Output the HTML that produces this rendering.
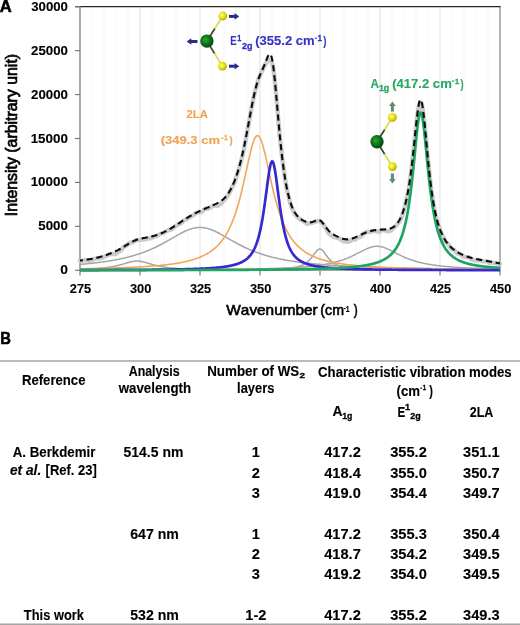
<!DOCTYPE html><html><head><meta charset="utf-8"><style>html,body{margin:0;padding:0;background:#fff;overflow:hidden}svg{display:block;will-change:transform}text{font-family:"Liberation Sans",sans-serif;font-kerning:none;font-variant-ligatures:none}</style></head><body>
<svg width="520" height="625" viewBox="0 0 520 625">
<rect width="520" height="625" fill="#fff"/>
<line x1="92" y1="7.3" x2="92" y2="270" stroke="#f5f5f5" stroke-width="1"/>
<line x1="104" y1="7.3" x2="104" y2="270" stroke="#f5f5f5" stroke-width="1"/>
<line x1="116" y1="7.3" x2="116" y2="270" stroke="#f5f5f5" stroke-width="1"/>
<line x1="128" y1="7.3" x2="128" y2="270" stroke="#f5f5f5" stroke-width="1"/>
<line x1="140" y1="7.3" x2="140" y2="270" stroke="#e4e4e4" stroke-width="1.2"/>
<line x1="152" y1="7.3" x2="152" y2="270" stroke="#f5f5f5" stroke-width="1"/>
<line x1="164" y1="7.3" x2="164" y2="270" stroke="#f5f5f5" stroke-width="1"/>
<line x1="176" y1="7.3" x2="176" y2="270" stroke="#f5f5f5" stroke-width="1"/>
<line x1="188" y1="7.3" x2="188" y2="270" stroke="#f5f5f5" stroke-width="1"/>
<line x1="200" y1="7.3" x2="200" y2="270" stroke="#e4e4e4" stroke-width="1.2"/>
<line x1="212" y1="7.3" x2="212" y2="270" stroke="#f5f5f5" stroke-width="1"/>
<line x1="224" y1="7.3" x2="224" y2="270" stroke="#f5f5f5" stroke-width="1"/>
<line x1="236" y1="7.3" x2="236" y2="270" stroke="#f5f5f5" stroke-width="1"/>
<line x1="248" y1="7.3" x2="248" y2="270" stroke="#f5f5f5" stroke-width="1"/>
<line x1="260" y1="7.3" x2="260" y2="270" stroke="#e4e4e4" stroke-width="1.2"/>
<line x1="272" y1="7.3" x2="272" y2="270" stroke="#f5f5f5" stroke-width="1"/>
<line x1="284" y1="7.3" x2="284" y2="270" stroke="#f5f5f5" stroke-width="1"/>
<line x1="296" y1="7.3" x2="296" y2="270" stroke="#f5f5f5" stroke-width="1"/>
<line x1="308" y1="7.3" x2="308" y2="270" stroke="#f5f5f5" stroke-width="1"/>
<line x1="320" y1="7.3" x2="320" y2="270" stroke="#e4e4e4" stroke-width="1.2"/>
<line x1="332" y1="7.3" x2="332" y2="270" stroke="#f5f5f5" stroke-width="1"/>
<line x1="344" y1="7.3" x2="344" y2="270" stroke="#f5f5f5" stroke-width="1"/>
<line x1="356" y1="7.3" x2="356" y2="270" stroke="#f5f5f5" stroke-width="1"/>
<line x1="368" y1="7.3" x2="368" y2="270" stroke="#f5f5f5" stroke-width="1"/>
<line x1="380" y1="7.3" x2="380" y2="270" stroke="#e4e4e4" stroke-width="1.2"/>
<line x1="392" y1="7.3" x2="392" y2="270" stroke="#f5f5f5" stroke-width="1"/>
<line x1="404" y1="7.3" x2="404" y2="270" stroke="#f5f5f5" stroke-width="1"/>
<line x1="416" y1="7.3" x2="416" y2="270" stroke="#f5f5f5" stroke-width="1"/>
<line x1="428" y1="7.3" x2="428" y2="270" stroke="#f5f5f5" stroke-width="1"/>
<line x1="440" y1="7.3" x2="440" y2="270" stroke="#e4e4e4" stroke-width="1.2"/>
<line x1="452" y1="7.3" x2="452" y2="270" stroke="#f5f5f5" stroke-width="1"/>
<line x1="464" y1="7.3" x2="464" y2="270" stroke="#f5f5f5" stroke-width="1"/>
<line x1="476" y1="7.3" x2="476" y2="270" stroke="#f5f5f5" stroke-width="1"/>
<line x1="488" y1="7.3" x2="488" y2="270" stroke="#f5f5f5" stroke-width="1"/>
<line x1="500" y1="6.7" x2="500" y2="270.3" stroke="#8c8c8c" stroke-width="1.3"/>
<line x1="75" y1="6.7" x2="500.6" y2="6.7" stroke="#262626" stroke-width="1.3"/>
<line x1="80" y1="6.2" x2="80" y2="270.3" stroke="#7a7a7a" stroke-width="1.3"/>
<line x1="80" y1="270.3" x2="500" y2="270.3" stroke="#7a7a7a" stroke-width="1.3"/>
<line x1="75" y1="226.37" x2="80" y2="226.37" stroke="#7a7a7a" stroke-width="1.2"/>
<line x1="75" y1="182.43" x2="80" y2="182.43" stroke="#7a7a7a" stroke-width="1.2"/>
<line x1="75" y1="138.50" x2="80" y2="138.50" stroke="#7a7a7a" stroke-width="1.2"/>
<line x1="75" y1="94.56" x2="80" y2="94.56" stroke="#7a7a7a" stroke-width="1.2"/>
<line x1="75" y1="50.63" x2="80" y2="50.63" stroke="#7a7a7a" stroke-width="1.2"/>
<line x1="75" y1="6.69" x2="80" y2="6.69" stroke="#7a7a7a" stroke-width="1.2"/>
<line x1="75" y1="270.3" x2="80" y2="270.3" stroke="#7a7a7a" stroke-width="1.2"/>
<line x1="80" y1="270.3" x2="80" y2="275.5" stroke="#7a7a7a" stroke-width="1.2"/>
<line x1="140" y1="270.3" x2="140" y2="275.5" stroke="#7a7a7a" stroke-width="1.2"/>
<line x1="200" y1="270.3" x2="200" y2="275.5" stroke="#7a7a7a" stroke-width="1.2"/>
<line x1="260" y1="270.3" x2="260" y2="275.5" stroke="#7a7a7a" stroke-width="1.2"/>
<line x1="320" y1="270.3" x2="320" y2="275.5" stroke="#7a7a7a" stroke-width="1.2"/>
<line x1="380" y1="270.3" x2="380" y2="275.5" stroke="#7a7a7a" stroke-width="1.2"/>
<line x1="440" y1="270.3" x2="440" y2="275.5" stroke="#7a7a7a" stroke-width="1.2"/>
<line x1="500" y1="270.3" x2="500" y2="275.5" stroke="#7a7a7a" stroke-width="1.2"/>
<path d="M80.00,261.10 L80.50,261.06 L81.00,261.03 L81.50,260.99 L82.00,260.96 L82.50,260.83 L83.00,260.70 L83.50,260.57 L84.00,260.45 L84.50,260.32 L85.00,260.19 L85.50,260.23 L86.00,260.26 L86.50,260.29 L87.00,260.32 L87.50,260.36 L88.00,260.39 L88.50,260.44 L89.00,260.49 L89.50,260.54 L90.00,260.59 L90.50,260.64 L91.00,260.68 L91.50,260.41 L92.00,260.14 L92.50,259.87 L93.00,259.59 L93.50,259.31 L94.00,259.03 L94.50,258.91 L95.00,258.80 L95.50,258.68 L96.00,258.55 L96.50,258.42 L97.00,258.29 L97.50,258.28 L98.00,258.27 L98.50,258.25 L99.00,258.23 L99.50,258.21 L100.00,258.18 L100.50,258.03 L101.00,257.87 L101.50,257.71 L102.00,257.55 L102.50,257.38 L103.00,257.22 L103.50,257.03 L104.00,256.85 L104.50,256.66 L105.00,256.47 L105.50,256.27 L106.00,256.08 L106.50,255.80 L107.00,255.52 L107.50,255.24 L108.00,254.96 L108.50,254.68 L109.00,254.40 L109.50,254.31 L110.00,254.23 L110.50,254.16 L111.00,254.10 L111.50,254.05 L112.00,254.03 L112.50,254.00 L113.00,254.00 L113.50,254.02 L114.00,254.06 L114.50,254.12 L115.00,254.18 L115.50,253.97 L116.00,253.73 L116.50,253.47 L117.00,253.15 L117.50,252.79 L118.00,252.36 L118.50,252.15 L119.00,251.89 L119.50,251.57 L120.00,251.20 L120.50,250.80 L121.00,250.39 L121.50,249.73 L122.00,249.09 L122.50,248.46 L123.00,247.85 L123.50,247.26 L124.00,246.70 L124.50,246.37 L125.00,246.06 L125.50,245.76 L126.00,245.48 L126.50,245.21 L127.00,244.95 L127.50,244.57 L128.00,244.21 L128.50,243.85 L129.00,243.49 L129.50,243.14 L130.00,242.79 L130.50,242.66 L131.00,242.54 L131.50,242.43 L132.00,242.32 L132.50,242.22 L133.00,242.13 L133.50,241.78 L134.00,241.45 L134.50,241.12 L135.00,240.80 L135.50,240.49 L136.00,240.19 L136.50,240.16 L137.00,240.14 L137.50,240.12 L138.00,240.12 L138.50,240.13 L139.00,240.15 L139.50,240.02 L140.00,239.89 L140.50,239.79 L141.00,239.70 L141.50,239.62 L142.00,239.57 L142.50,239.51 L143.00,239.48 L143.50,239.46 L144.00,239.47 L144.50,239.49 L145.00,239.52 L145.50,239.35 L146.00,239.17 L146.50,238.97 L147.00,238.74 L147.50,238.47 L148.00,238.16 L148.50,238.24 L149.00,238.28 L149.50,238.28 L150.00,238.24 L150.50,238.19 L151.00,238.12 L151.50,237.90 L152.00,237.68 L152.50,237.48 L153.00,237.28 L153.50,237.10 L154.00,236.93 L154.50,236.74 L155.00,236.57 L155.50,236.40 L156.00,236.23 L156.50,236.07 L157.00,235.91 L157.50,235.57 L158.00,235.23 L158.50,234.88 L159.00,234.53 L159.50,234.18 L160.00,233.82 L160.50,233.73 L161.00,233.63 L161.50,233.53 L162.00,233.43 L162.50,233.31 L163.00,233.20 L163.50,232.92 L164.00,232.64 L164.50,232.35 L165.00,232.06 L165.50,231.77 L166.00,231.47 L166.50,231.23 L167.00,230.98 L167.50,230.73 L168.00,230.48 L168.50,230.22 L169.00,229.95 L169.50,229.85 L170.00,229.75 L170.50,229.64 L171.00,229.53 L171.50,229.42 L172.00,229.30 L172.50,228.80 L173.00,228.30 L173.50,227.79 L174.00,227.29 L174.50,226.78 L175.00,226.26 L175.50,226.01 L176.00,225.76 L176.50,225.51 L177.00,225.25 L177.50,225.00 L178.00,224.74 L178.50,224.50 L179.00,224.25 L179.50,224.01 L180.00,223.76 L180.50,223.52 L181.00,223.28 L181.50,222.80 L182.00,222.32 L182.50,221.84 L183.00,221.36 L183.50,220.89 L184.00,220.42 L184.50,220.14 L185.00,219.86 L185.50,219.59 L186.00,219.32 L186.50,219.06 L187.00,218.79 L187.50,218.51 L188.00,218.22 L188.50,217.95 L189.00,217.67 L189.50,217.40 L190.00,217.13 L190.50,216.83 L191.00,216.54 L191.50,216.26 L192.00,215.97 L192.50,215.69 L193.00,215.42 L193.50,215.02 L194.00,214.62 L194.50,214.23 L195.00,213.84 L195.50,213.46 L196.00,213.07 L196.50,212.95 L197.00,212.84 L197.50,212.72 L198.00,212.61 L198.50,212.50 L199.00,212.39 L199.50,212.28 L200.00,212.17 L200.50,212.07 L201.00,211.97 L201.50,211.86 L202.00,211.77 L202.50,211.25 L203.00,210.73 L203.50,210.22 L204.00,209.71 L204.50,209.20 L205.00,208.69 L205.50,208.71 L206.00,208.73 L206.50,208.76 L207.00,208.78 L207.50,208.81 L208.00,208.84 L208.50,208.55 L209.00,208.26 L209.50,207.97 L210.00,207.69 L210.50,207.40 L211.00,207.12 L211.50,206.83 L212.00,206.54 L212.50,206.25 L213.00,205.97 L213.50,205.69 L214.00,205.41 L214.50,205.47 L215.00,205.55 L215.50,205.63 L216.00,205.73 L216.50,205.84 L217.00,205.97 L217.50,205.72 L218.00,205.48 L218.50,205.25 L219.00,205.02 L219.50,204.77 L220.00,204.50 L220.50,204.12 L221.00,203.68 L221.50,203.19 L222.00,202.64 L222.50,202.01 L223.00,201.31 L223.50,200.88 L224.00,200.38 L224.50,199.84 L225.00,199.26 L225.50,198.66 L226.00,198.03 L226.50,197.31 L227.00,196.59 L227.50,195.85 L228.00,195.10 L228.50,194.34 L229.00,193.56 L229.50,192.63 L230.00,191.68 L230.50,190.69 L231.00,189.68 L231.50,188.63 L232.00,187.54 L232.50,186.58 L233.00,185.57 L233.50,184.52 L234.00,183.42 L234.50,182.28 L235.00,181.09 L235.50,179.69 L236.00,178.23 L236.50,176.73 L237.00,175.17 L237.50,173.55 L238.00,171.88 L238.50,170.30 L239.00,168.66 L239.50,166.96 L240.00,165.20 L240.50,163.38 L241.00,161.49 L241.50,159.55 L242.00,157.54 L242.50,155.47 L243.00,153.33 L243.50,151.14 L244.00,148.88 L244.50,146.28 L245.00,143.62 L245.50,140.91 L246.00,138.15 L246.50,135.35 L247.00,132.51 L247.50,129.93 L248.00,127.33 L248.50,124.71 L249.00,122.08 L249.50,119.44 L250.00,116.81 L250.50,114.04 L251.00,111.30 L251.50,108.59 L252.00,105.93 L252.50,103.33 L253.00,100.79 L253.50,98.45 L254.00,96.19 L254.50,94.02 L255.00,91.94 L255.50,89.96 L256.00,88.08 L256.50,86.12 L257.00,84.26 L257.50,82.50 L258.00,80.84 L258.50,79.26 L259.00,77.77 L259.50,76.55 L260.00,75.39 L260.50,74.28 L261.00,73.21 L261.50,72.16 L262.00,71.14 L262.50,70.10 L263.00,69.06 L263.50,68.02 L264.00,66.99 L264.50,65.96 L265.00,64.96 L265.50,64.08 L266.00,63.25 L266.50,62.50 L267.00,61.85 L267.50,61.30 L268.00,60.86 L268.50,60.46 L269.00,60.19 L269.50,60.07 L270.00,60.16 L270.50,60.49 L271.00,61.15 L271.50,61.93 L272.00,63.18 L272.50,64.96 L273.00,67.31 L273.50,70.25 L274.00,73.76 L274.50,78.08 L275.00,82.85 L275.50,87.99 L276.00,93.41 L276.50,99.03 L277.00,104.76 L277.50,110.61 L278.00,116.44 L278.50,122.20 L279.00,127.84 L279.50,133.33 L280.00,138.65 L280.50,143.37 L281.00,147.89 L281.50,152.21 L282.00,156.32 L282.50,160.22 L283.00,163.91 L283.50,167.82 L284.00,171.53 L284.50,175.04 L285.00,178.37 L285.50,181.51 L286.00,184.49 L286.50,187.18 L287.00,189.71 L287.50,192.09 L288.00,194.33 L288.50,196.42 L289.00,198.39 L289.50,200.33 L290.00,202.16 L290.50,203.87 L291.00,205.48 L291.50,206.99 L292.00,208.40 L292.50,209.54 L293.00,210.59 L293.50,211.56 L294.00,212.47 L294.50,213.30 L295.00,214.07 L295.50,214.74 L296.00,215.36 L296.50,215.92 L297.00,216.43 L297.50,216.91 L298.00,217.34 L298.50,217.83 L299.00,218.29 L299.50,218.72 L300.00,219.12 L300.50,219.49 L301.00,219.84 L301.50,220.19 L302.00,220.51 L302.50,220.82 L303.00,221.11 L303.50,221.38 L304.00,221.63 L304.50,222.03 L305.00,222.42 L305.50,222.79 L306.00,223.14 L306.50,223.48 L307.00,223.80 L307.50,223.72 L308.00,223.63 L308.50,223.51 L309.00,223.37 L309.50,223.21 L310.00,223.01 L310.50,223.00 L311.00,222.96 L311.50,222.89 L312.00,222.79 L312.50,222.67 L313.00,222.51 L313.50,222.39 L314.00,222.25 L314.50,222.10 L315.00,221.94 L315.50,221.78 L316.00,221.64 L316.50,221.40 L317.00,221.19 L317.50,221.02 L318.00,220.91 L318.50,220.87 L319.00,220.89 L319.50,221.03 L320.00,221.26 L320.50,221.56 L321.00,221.95 L321.50,222.41 L322.00,222.95 L322.50,223.46 L323.00,224.03 L323.50,224.65 L324.00,225.30 L324.50,225.99 L325.00,226.71 L325.50,227.64 L326.00,228.57 L326.50,229.51 L327.00,230.43 L327.50,231.32 L328.00,232.18 L328.50,232.83 L329.00,233.42 L329.50,233.93 L330.00,234.38 L330.50,234.75 L331.00,235.04 L331.50,235.48 L332.00,235.86 L332.50,236.21 L333.00,236.52 L333.50,236.82 L334.00,237.12 L334.50,237.21 L335.00,237.31 L335.50,237.42 L336.00,237.55 L336.50,237.69 L337.00,237.84 L337.50,237.99 L338.00,238.15 L338.50,238.32 L339.00,238.49 L339.50,238.67 L340.00,238.87 L340.50,239.21 L341.00,239.56 L341.50,239.91 L342.00,240.27 L342.50,240.64 L343.00,241.00 L343.50,241.17 L344.00,241.32 L344.50,241.44 L345.00,241.51 L345.50,241.53 L346.00,241.50 L346.50,241.65 L347.00,241.74 L347.50,241.78 L348.00,241.78 L348.50,241.74 L349.00,241.68 L349.50,241.36 L350.00,241.04 L350.50,240.72 L351.00,240.41 L351.50,240.12 L352.00,239.84 L352.50,239.75 L353.00,239.67 L353.50,239.61 L354.00,239.56 L354.50,239.52 L355.00,239.49 L355.50,239.20 L356.00,238.90 L356.50,238.59 L357.00,238.25 L357.50,237.87 L358.00,237.46 L358.50,237.37 L359.00,237.25 L359.50,237.10 L360.00,236.92 L360.50,236.73 L361.00,236.54 L361.50,235.98 L362.00,235.43 L362.50,234.89 L363.00,234.37 L363.50,233.87 L364.00,233.39 L364.50,233.09 L365.00,232.82 L365.50,232.56 L366.00,232.31 L366.50,232.07 L367.00,231.85 L367.50,231.84 L368.00,231.84 L368.50,231.85 L369.00,231.87 L369.50,231.89 L370.00,231.93 L370.50,231.73 L371.00,231.55 L371.50,231.37 L372.00,231.19 L372.50,231.03 L373.00,230.87 L373.50,230.88 L374.00,230.90 L374.50,230.93 L375.00,230.96 L375.50,230.99 L376.00,231.04 L376.50,231.19 L377.00,231.34 L377.50,231.50 L378.00,231.66 L378.50,231.83 L379.00,232.00 L379.50,231.67 L380.00,231.33 L380.50,231.01 L381.00,230.68 L381.50,230.37 L382.00,230.07 L382.50,230.10 L383.00,230.14 L383.50,230.20 L384.00,230.27 L384.50,230.35 L385.00,230.44 L385.50,230.60 L386.00,230.76 L386.50,230.91 L387.00,231.04 L387.50,231.15 L388.00,231.23 L388.50,231.21 L389.00,231.14 L389.50,231.02 L390.00,230.86 L390.50,230.64 L391.00,230.39 L391.50,230.00 L392.00,229.57 L392.50,229.12 L393.00,228.65 L393.50,228.16 L394.00,227.65 L394.50,227.19 L395.00,226.70 L395.50,226.19 L396.00,225.65 L396.50,225.07 L397.00,224.46 L397.50,223.90 L398.00,223.29 L398.50,222.64 L399.00,221.92 L399.50,221.15 L400.00,220.32 L400.50,219.31 L401.00,218.24 L401.50,217.08 L402.00,215.85 L402.50,214.53 L403.00,213.12 L403.50,211.48 L404.00,209.74 L404.50,207.89 L405.00,205.93 L405.50,203.84 L406.00,201.62 L406.50,199.52 L407.00,197.28 L407.50,194.88 L408.00,192.32 L408.50,189.59 L409.00,186.68 L409.50,183.51 L410.00,180.15 L410.50,176.59 L411.00,172.84 L411.50,168.89 L412.00,164.74 L412.50,160.30 L413.00,155.68 L413.50,150.91 L414.00,146.02 L414.50,141.04 L415.00,136.04 L415.50,131.31 L416.00,126.69 L416.50,122.28 L417.00,118.16 L417.50,114.44 L418.00,111.20 L418.50,108.24 L419.00,105.85 L419.50,104.05 L420.00,102.85 L420.50,102.27 L421.00,102.37 L421.50,103.45 L422.00,105.27 L422.50,107.82 L423.00,111.07 L423.50,114.95 L424.00,119.35 L424.50,123.93 L425.00,128.82 L425.50,133.92 L426.00,139.15 L426.50,144.42 L427.00,149.67 L427.50,154.92 L428.00,160.05 L428.50,165.03 L429.00,169.84 L429.50,174.45 L430.00,178.87 L430.50,183.02 L431.00,186.96 L431.50,190.69 L432.00,194.21 L432.50,197.54 L433.00,200.68 L433.50,203.74 L434.00,206.63 L434.50,209.36 L435.00,211.92 L435.50,214.34 L436.00,216.61 L436.50,218.52 L437.00,220.31 L437.50,221.97 L438.00,223.53 L438.50,224.99 L439.00,226.36 L439.50,227.91 L440.00,229.38 L440.50,230.77 L441.00,232.09 L441.50,233.34 L442.00,234.53 L442.50,235.72 L443.00,236.86 L443.50,237.96 L444.00,239.00 L444.50,240.00 L445.00,240.96 L445.50,241.48 L446.00,241.97 L446.50,242.43 L447.00,242.85 L447.50,243.25 L448.00,243.62 L448.50,244.51 L449.00,245.37 L449.50,246.22 L450.00,247.04 L450.50,247.84 L451.00,248.63 L451.50,248.84 L452.00,249.03 L452.50,249.21 L453.00,249.37 L453.50,249.51 L454.00,249.65 L454.50,250.28 L455.00,250.89 L455.50,251.50 L456.00,252.09 L456.50,252.67 L457.00,253.24 L457.50,253.39 L458.00,253.53 L458.50,253.66 L459.00,253.78 L459.50,253.89 L460.00,253.99 L460.50,254.41 L461.00,254.82 L461.50,255.22 L462.00,255.62 L462.50,256.00 L463.00,256.38 L463.50,256.53 L464.00,256.67 L464.50,256.81 L465.00,256.93 L465.50,257.06 L466.00,257.17 L466.50,257.19 L467.00,257.19 L467.50,257.19 L468.00,257.19 L468.50,257.18 L469.00,257.17 L469.50,257.59 L470.00,258.02 L470.50,258.44 L471.00,258.86 L471.50,259.27 L472.00,259.68 L472.50,259.83 L473.00,259.97 L473.50,260.11 L474.00,260.25 L474.50,260.39 L475.00,260.52 L475.50,260.49 L476.00,260.45 L476.50,260.40 L477.00,260.36 L477.50,260.31 L478.00,260.26 L478.50,260.34 L479.00,260.42 L479.50,260.50 L480.00,260.58 L480.50,260.65 L481.00,260.73 L481.50,260.83 L482.00,260.93 L482.50,261.04 L483.00,261.14 L483.50,261.24 L484.00,261.34 L484.50,261.35 L485.00,261.35 L485.50,261.36 L486.00,261.36 L486.50,261.37 L487.00,261.37 L487.50,261.66 L488.00,261.95 L488.50,262.25 L489.00,262.54 L489.50,262.83 L490.00,263.12 L490.50,263.04 L491.00,262.97 L491.50,262.89 L492.00,262.82 L492.50,262.74 L493.00,262.67 L493.50,262.81 L494.00,262.95 L494.50,263.10 L495.00,263.24 L495.50,263.39 L496.00,263.54 L496.50,263.56 L497.00,263.59 L497.50,263.62 L498.00,263.65 L498.50,263.68 L499.00,263.71 L499.50,263.83 L500.00,263.95" fill="none" stroke="#cbcbcb" stroke-width="4.4" stroke-linejoin="round" stroke-linecap="round"/>
<path d="M80.00,264.39 L80.50,264.35 L81.00,264.31 L81.50,264.26 L82.00,264.22 L82.50,264.17 L83.00,264.13 L83.50,264.08 L84.00,264.04 L84.50,263.99 L85.00,263.94 L85.50,263.90 L86.00,263.85 L86.50,263.80 L87.00,263.75 L87.50,263.70 L88.00,263.65 L88.50,263.60 L89.00,263.55 L89.50,263.50 L90.00,263.45 L90.50,263.40 L91.00,263.34 L91.50,263.29 L92.00,263.23 L92.50,263.18 L93.00,263.12 L93.50,263.07 L94.00,263.01 L94.50,262.95 L95.00,262.90 L95.50,262.84 L96.00,262.78 L96.50,262.72 L97.00,262.66 L97.50,262.60 L98.00,262.53 L98.50,262.47 L99.00,262.41 L99.50,262.34 L100.00,262.28 L100.50,262.21 L101.00,262.15 L101.50,262.08 L102.00,262.01 L102.50,261.94 L103.00,261.87 L103.50,261.80 L104.00,261.73 L104.50,261.66 L105.00,261.59 L105.50,261.51 L106.00,261.44 L106.50,261.37 L107.00,261.29 L107.50,261.21 L108.00,261.13 L108.50,261.06 L109.00,260.98 L109.50,260.90 L110.00,260.81 L110.50,260.73 L111.00,260.65 L111.50,260.56 L112.00,260.48 L112.50,260.39 L113.00,260.30 L113.50,260.21 L114.00,260.13 L114.50,260.03 L115.00,259.94 L115.50,259.85 L116.00,259.76 L116.50,259.66 L117.00,259.56 L117.50,259.47 L118.00,259.37 L118.50,259.27 L119.00,259.17 L119.50,259.06 L120.00,258.96 L120.50,258.86 L121.00,258.75 L121.50,258.64 L122.00,258.53 L122.50,258.42 L123.00,258.31 L123.50,258.20 L124.00,258.09 L124.50,257.97 L125.00,257.85 L125.50,257.73 L126.00,257.61 L126.50,257.49 L127.00,257.37 L127.50,257.25 L128.00,257.12 L128.50,256.99 L129.00,256.86 L129.50,256.73 L130.00,256.60 L130.50,256.47 L131.00,256.33 L131.50,256.19 L132.00,256.05 L132.50,255.91 L133.00,255.77 L133.50,255.63 L134.00,255.48 L134.50,255.33 L135.00,255.18 L135.50,255.03 L136.00,254.88 L136.50,254.72 L137.00,254.57 L137.50,254.41 L138.00,254.25 L138.50,254.08 L139.00,253.92 L139.50,253.75 L140.00,253.58 L140.50,253.41 L141.00,253.24 L141.50,253.06 L142.00,252.89 L142.50,252.71 L143.00,252.53 L143.50,252.34 L144.00,252.16 L144.50,251.97 L145.00,251.78 L145.50,251.59 L146.00,251.39 L146.50,251.20 L147.00,251.00 L147.50,250.80 L148.00,250.59 L148.50,250.39 L149.00,250.18 L149.50,249.97 L150.00,249.76 L150.50,249.54 L151.00,249.32 L151.50,249.10 L152.00,248.88 L152.50,248.66 L153.00,248.43 L153.50,248.20 L154.00,247.97 L154.50,247.74 L155.00,247.50 L155.50,247.26 L156.00,247.02 L156.50,246.78 L157.00,246.54 L157.50,246.29 L158.00,246.04 L158.50,245.79 L159.00,245.53 L159.50,245.28 L160.00,245.02 L160.50,244.76 L161.00,244.50 L161.50,244.23 L162.00,243.97 L162.50,243.70 L163.00,243.43 L163.50,243.16 L164.00,242.88 L164.50,242.61 L165.00,242.33 L165.50,242.05 L166.00,241.78 L166.50,241.49 L167.00,241.21 L167.50,240.93 L168.00,240.64 L168.50,240.36 L169.00,240.07 L169.50,239.78 L170.00,239.50 L170.50,239.21 L171.00,238.92 L171.50,238.63 L172.00,238.34 L172.50,238.05 L173.00,237.76 L173.50,237.47 L174.00,237.18 L174.50,236.89 L175.00,236.60 L175.50,236.32 L176.00,236.03 L176.50,235.75 L177.00,235.46 L177.50,235.18 L178.00,234.90 L178.50,234.62 L179.00,234.35 L179.50,234.07 L180.00,233.80 L180.50,233.53 L181.00,233.27 L181.50,233.00 L182.00,232.74 L182.50,232.49 L183.00,232.24 L183.50,231.99 L184.00,231.75 L184.50,231.51 L185.00,231.27 L185.50,231.05 L186.00,230.82 L186.50,230.60 L187.00,230.39 L187.50,230.18 L188.00,229.98 L188.50,229.79 L189.00,229.60 L189.50,229.42 L190.00,229.25 L190.50,229.08 L191.00,228.92 L191.50,228.77 L192.00,228.62 L192.50,228.48 L193.00,228.36 L193.50,228.23 L194.00,228.12 L194.50,228.02 L195.00,227.92 L195.50,227.84 L196.00,227.76 L196.50,227.69 L197.00,227.63 L197.50,227.58 L198.00,227.54 L198.50,227.51 L199.00,227.48 L199.50,227.47 L200.00,227.46 L200.50,227.47 L201.00,227.48 L201.50,227.51 L202.00,227.54 L202.50,227.58 L203.00,227.63 L203.50,227.69 L204.00,227.76 L204.50,227.84 L205.00,227.92 L205.50,228.02 L206.00,228.12 L206.50,228.23 L207.00,228.36 L207.50,228.48 L208.00,228.62 L208.50,228.77 L209.00,228.92 L209.50,229.08 L210.00,229.25 L210.50,229.42 L211.00,229.60 L211.50,229.79 L212.00,229.98 L212.50,230.18 L213.00,230.39 L213.50,230.60 L214.00,230.82 L214.50,231.05 L215.00,231.27 L215.50,231.51 L216.00,231.75 L216.50,231.99 L217.00,232.24 L217.50,232.49 L218.00,232.74 L218.50,233.00 L219.00,233.27 L219.50,233.53 L220.00,233.80 L220.50,234.07 L221.00,234.35 L221.50,234.62 L222.00,234.90 L222.50,235.18 L223.00,235.46 L223.50,235.75 L224.00,236.03 L224.50,236.32 L225.00,236.60 L225.50,236.89 L226.00,237.18 L226.50,237.47 L227.00,237.76 L227.50,238.05 L228.00,238.34 L228.50,238.63 L229.00,238.92 L229.50,239.21 L230.00,239.50 L230.50,239.78 L231.00,240.07 L231.50,240.36 L232.00,240.64 L232.50,240.93 L233.00,241.21 L233.50,241.49 L234.00,241.78 L234.50,242.05 L235.00,242.33 L235.50,242.61 L236.00,242.88 L236.50,243.16 L237.00,243.43 L237.50,243.70 L238.00,243.97 L238.50,244.23 L239.00,244.50 L239.50,244.76 L240.00,245.02 L240.50,245.28 L241.00,245.53 L241.50,245.79 L242.00,246.04 L242.50,246.29 L243.00,246.54 L243.50,246.78 L244.00,247.02 L244.50,247.26 L245.00,247.50 L245.50,247.74 L246.00,247.97 L246.50,248.20 L247.00,248.43 L247.50,248.66 L248.00,248.88 L248.50,249.10 L249.00,249.32 L249.50,249.54 L250.00,249.76 L250.50,249.97 L251.00,250.18 L251.50,250.39 L252.00,250.59 L252.50,250.80 L253.00,251.00 L253.50,251.20 L254.00,251.39 L254.50,251.59 L255.00,251.78 L255.50,251.97 L256.00,252.16 L256.50,252.34 L257.00,252.53 L257.50,252.71 L258.00,252.89 L258.50,253.06 L259.00,253.24 L259.50,253.41 L260.00,253.58 L260.50,253.75 L261.00,253.92 L261.50,254.08 L262.00,254.25 L262.50,254.41 L263.00,254.57 L263.50,254.72 L264.00,254.88 L264.50,255.03 L265.00,255.18 L265.50,255.33 L266.00,255.48 L266.50,255.63 L267.00,255.77 L267.50,255.91 L268.00,256.05 L268.50,256.19 L269.00,256.33 L269.50,256.47 L270.00,256.60 L270.50,256.73 L271.00,256.86 L271.50,256.99 L272.00,257.12 L272.50,257.25 L273.00,257.37 L273.50,257.49 L274.00,257.61 L274.50,257.73 L275.00,257.85 L275.50,257.97 L276.00,258.09 L276.50,258.20 L277.00,258.31 L277.50,258.42 L278.00,258.53 L278.50,258.64 L279.00,258.75 L279.50,258.86 L280.00,258.96 L280.50,259.06 L281.00,259.17 L281.50,259.27 L282.00,259.37 L282.50,259.47 L283.00,259.56 L283.50,259.66 L284.00,259.76 L284.50,259.85 L285.00,259.94 L285.50,260.03 L286.00,260.13 L286.50,260.21 L287.00,260.30 L287.50,260.39 L288.00,260.48 L288.50,260.56 L289.00,260.65 L289.50,260.73 L290.00,260.81 L290.50,260.90 L291.00,260.98 L291.50,261.06 L292.00,261.13 L292.50,261.21 L293.00,261.29 L293.50,261.37 L294.00,261.44 L294.50,261.51 L295.00,261.59 L295.50,261.66 L296.00,261.73 L296.50,261.80 L297.00,261.87 L297.50,261.94 L298.00,262.01 L298.50,262.08 L299.00,262.15 L299.50,262.21 L300.00,262.28 L300.50,262.34 L301.00,262.41 L301.50,262.47 L302.00,262.53 L302.50,262.60 L303.00,262.66 L303.50,262.72 L304.00,262.78 L304.50,262.84 L305.00,262.90 L305.50,262.95 L306.00,263.01 L306.50,263.07 L307.00,263.12 L307.50,263.18 L308.00,263.23 L308.50,263.29 L309.00,263.34 L309.50,263.40 L310.00,263.45 L310.50,263.50 L311.00,263.55 L311.50,263.60 L312.00,263.65 L312.50,263.70 L313.00,263.75 L313.50,263.80 L314.00,263.85 L314.50,263.90 L315.00,263.94 L315.50,263.99 L316.00,264.04 L316.50,264.08 L317.00,264.13 L317.50,264.17 L318.00,264.22 L318.50,264.26 L319.00,264.31 L319.50,264.35 L320.00,264.39 L320.50,264.43 L321.00,264.48 L321.50,264.52 L322.00,264.56 L322.50,264.60 L323.00,264.64 L323.50,264.68 L324.00,264.72 L324.50,264.76 L325.00,264.80 L325.50,264.83 L326.00,264.87 L326.50,264.91 L327.00,264.95 L327.50,264.98 L328.00,265.02 L328.50,265.05 L329.00,265.09 L329.50,265.13 L330.00,265.16 L330.50,265.20 L331.00,265.23 L331.50,265.26 L332.00,265.30 L332.50,265.33 L333.00,265.36 L333.50,265.40 L334.00,265.43 L334.50,265.46 L335.00,265.49 L335.50,265.52 L336.00,265.56 L336.50,265.59 L337.00,265.62 L337.50,265.65 L338.00,265.68 L338.50,265.71 L339.00,265.74 L339.50,265.77 L340.00,265.79 L340.50,265.82 L341.00,265.85 L341.50,265.88 L342.00,265.91 L342.50,265.93 L343.00,265.96 L343.50,265.99 L344.00,266.02 L344.50,266.04 L345.00,266.07 L345.50,266.10 L346.00,266.12 L346.50,266.15 L347.00,266.17 L347.50,266.20 L348.00,266.22 L348.50,266.25 L349.00,266.27 L349.50,266.30 L350.00,266.32 L350.50,266.34 L351.00,266.37 L351.50,266.39 L352.00,266.42 L352.50,266.44 L353.00,266.46 L353.50,266.48 L354.00,266.51 L354.50,266.53 L355.00,266.55 L355.50,266.57 L356.00,266.60 L356.50,266.62 L357.00,266.64 L357.50,266.66 L358.00,266.68 L358.50,266.70 L359.00,266.72 L359.50,266.74 L360.00,266.76 L360.50,266.78 L361.00,266.80 L361.50,266.82 L362.00,266.84 L362.50,266.86 L363.00,266.88 L363.50,266.90 L364.00,266.92 L364.50,266.94 L365.00,266.96 L365.50,266.98 L366.00,266.99 L366.50,267.01 L367.00,267.03 L367.50,267.05 L368.00,267.07 L368.50,267.08 L369.00,267.10 L369.50,267.12 L370.00,267.14 L370.50,267.15 L371.00,267.17 L371.50,267.19 L372.00,267.20 L372.50,267.22 L373.00,267.24 L373.50,267.25 L374.00,267.27 L374.50,267.29 L375.00,267.30 L375.50,267.32 L376.00,267.33 L376.50,267.35 L377.00,267.37 L377.50,267.38 L378.00,267.40 L378.50,267.41 L379.00,267.43 L379.50,267.44 L380.00,267.46 L380.50,267.47 L381.00,267.49 L381.50,267.50 L382.00,267.51 L382.50,267.53 L383.00,267.54 L383.50,267.56 L384.00,267.57 L384.50,267.58 L385.00,267.60 L385.50,267.61 L386.00,267.63 L386.50,267.64 L387.00,267.65 L387.50,267.67 L388.00,267.68 L388.50,267.69 L389.00,267.70 L389.50,267.72 L390.00,267.73 L390.50,267.74 L391.00,267.76 L391.50,267.77 L392.00,267.78 L392.50,267.79 L393.00,267.80 L393.50,267.82 L394.00,267.83 L394.50,267.84 L395.00,267.85 L395.50,267.86 L396.00,267.88 L396.50,267.89 L397.00,267.90 L397.50,267.91 L398.00,267.92 L398.50,267.93 L399.00,267.94 L399.50,267.96 L400.00,267.97 L400.50,267.98 L401.00,267.99 L401.50,268.00 L402.00,268.01 L402.50,268.02 L403.00,268.03 L403.50,268.04 L404.00,268.05 L404.50,268.06 L405.00,268.07 L405.50,268.08 L406.00,268.09 L406.50,268.10 L407.00,268.11 L407.50,268.12 L408.00,268.13 L408.50,268.14 L409.00,268.15 L409.50,268.16 L410.00,268.17 L410.50,268.18 L411.00,268.19 L411.50,268.20 L412.00,268.21 L412.50,268.22 L413.00,268.23 L413.50,268.24 L414.00,268.25 L414.50,268.26 L415.00,268.27 L415.50,268.28 L416.00,268.28 L416.50,268.29 L417.00,268.30 L417.50,268.31 L418.00,268.32 L418.50,268.33 L419.00,268.34 L419.50,268.35 L420.00,268.35 L420.50,268.36 L421.00,268.37 L421.50,268.38 L422.00,268.39 L422.50,268.40 L423.00,268.40 L423.50,268.41 L424.00,268.42 L424.50,268.43 L425.00,268.44 L425.50,268.44 L426.00,268.45 L426.50,268.46 L427.00,268.47 L427.50,268.47 L428.00,268.48 L428.50,268.49 L429.00,268.50 L429.50,268.50 L430.00,268.51 L430.50,268.52 L431.00,268.53 L431.50,268.53 L432.00,268.54 L432.50,268.55 L433.00,268.56 L433.50,268.56 L434.00,268.57 L434.50,268.58 L435.00,268.58 L435.50,268.59 L436.00,268.60 L436.50,268.61 L437.00,268.61 L437.50,268.62 L438.00,268.63 L438.50,268.63 L439.00,268.64 L439.50,268.65 L440.00,268.65 L440.50,268.66 L441.00,268.67 L441.50,268.67 L442.00,268.68 L442.50,268.68 L443.00,268.69 L443.50,268.70 L444.00,268.70 L444.50,268.71 L445.00,268.72 L445.50,268.72 L446.00,268.73 L446.50,268.74 L447.00,268.74 L447.50,268.75 L448.00,268.75 L448.50,268.76 L449.00,268.77 L449.50,268.77 L450.00,268.78 L450.50,268.78 L451.00,268.79 L451.50,268.79 L452.00,268.80 L452.50,268.81 L453.00,268.81 L453.50,268.82 L454.00,268.82 L454.50,268.83 L455.00,268.83 L455.50,268.84 L456.00,268.85 L456.50,268.85 L457.00,268.86 L457.50,268.86 L458.00,268.87 L458.50,268.87 L459.00,268.88 L459.50,268.88 L460.00,268.89 L460.50,268.89 L461.00,268.90 L461.50,268.90 L462.00,268.91 L462.50,268.91 L463.00,268.92 L463.50,268.92 L464.00,268.93 L464.50,268.93 L465.00,268.94 L465.50,268.94 L466.00,268.95 L466.50,268.95 L467.00,268.96 L467.50,268.96 L468.00,268.97 L468.50,268.97 L469.00,268.98 L469.50,268.98 L470.00,268.99 L470.50,268.99 L471.00,269.00 L471.50,269.00 L472.00,269.01 L472.50,269.01 L473.00,269.02 L473.50,269.02 L474.00,269.02 L474.50,269.03 L475.00,269.03 L475.50,269.04 L476.00,269.04 L476.50,269.05 L477.00,269.05 L477.50,269.06 L478.00,269.06 L478.50,269.06 L479.00,269.07 L479.50,269.07 L480.00,269.08 L480.50,269.08 L481.00,269.09 L481.50,269.09 L482.00,269.09 L482.50,269.10 L483.00,269.10 L483.50,269.11 L484.00,269.11 L484.50,269.11 L485.00,269.12 L485.50,269.12 L486.00,269.13 L486.50,269.13 L487.00,269.13 L487.50,269.14 L488.00,269.14 L488.50,269.15 L489.00,269.15 L489.50,269.15 L490.00,269.16 L490.50,269.16 L491.00,269.17 L491.50,269.17 L492.00,269.17 L492.50,269.18 L493.00,269.18 L493.50,269.18 L494.00,269.19 L494.50,269.19 L495.00,269.20 L495.50,269.20 L496.00,269.20 L496.50,269.21 L497.00,269.21 L497.50,269.21 L498.00,269.22 L498.50,269.22 L499.00,269.22 L499.50,269.23 L500.00,269.23" fill="none" stroke="#a5a5a5" stroke-width="1.5"/>
<path d="M80.00,269.29 L80.50,269.27 L81.00,269.26 L81.50,269.24 L82.00,269.22 L82.50,269.20 L83.00,269.19 L83.50,269.17 L84.00,269.15 L84.50,269.13 L85.00,269.11 L85.50,269.09 L86.00,269.07 L86.50,269.05 L87.00,269.03 L87.50,269.01 L88.00,268.98 L88.50,268.96 L89.00,268.94 L89.50,268.91 L90.00,268.89 L90.50,268.86 L91.00,268.83 L91.50,268.81 L92.00,268.78 L92.50,268.75 L93.00,268.72 L93.50,268.69 L94.00,268.66 L94.50,268.63 L95.00,268.59 L95.50,268.56 L96.00,268.53 L96.50,268.49 L97.00,268.45 L97.50,268.42 L98.00,268.38 L98.50,268.34 L99.00,268.30 L99.50,268.26 L100.00,268.21 L100.50,268.17 L101.00,268.12 L101.50,268.08 L102.00,268.03 L102.50,267.98 L103.00,267.93 L103.50,267.88 L104.00,267.82 L104.50,267.77 L105.00,267.71 L105.50,267.65 L106.00,267.59 L106.50,267.53 L107.00,267.46 L107.50,267.39 L108.00,267.33 L108.50,267.26 L109.00,267.18 L109.50,267.11 L110.00,267.03 L110.50,266.95 L111.00,266.87 L111.50,266.79 L112.00,266.70 L112.50,266.61 L113.00,266.52 L113.50,266.42 L114.00,266.33 L114.50,266.23 L115.00,266.13 L115.50,266.02 L116.00,265.91 L116.50,265.80 L117.00,265.69 L117.50,265.57 L118.00,265.45 L118.50,265.33 L119.00,265.20 L119.50,265.07 L120.00,264.94 L120.50,264.81 L121.00,264.67 L121.50,264.54 L122.00,264.40 L122.50,264.25 L123.00,264.11 L123.50,263.96 L124.00,263.81 L124.50,263.67 L125.00,263.52 L125.50,263.37 L126.00,263.22 L126.50,263.07 L127.00,262.92 L127.50,262.77 L128.00,262.63 L128.50,262.49 L129.00,262.35 L129.50,262.21 L130.00,262.08 L130.50,261.96 L131.00,261.84 L131.50,261.72 L132.00,261.62 L132.50,261.52 L133.00,261.43 L133.50,261.35 L134.00,261.28 L134.50,261.22 L135.00,261.17 L135.50,261.13 L136.00,261.10 L136.50,261.08 L137.00,261.07 L137.50,261.08 L138.00,261.10 L138.50,261.13 L139.00,261.17 L139.50,261.22 L140.00,261.28 L140.50,261.35 L141.00,261.43 L141.50,261.52 L142.00,261.62 L142.50,261.72 L143.00,261.84 L143.50,261.96 L144.00,262.08 L144.50,262.21 L145.00,262.35 L145.50,262.49 L146.00,262.63 L146.50,262.77 L147.00,262.92 L147.50,263.07 L148.00,263.22 L148.50,263.37 L149.00,263.52 L149.50,263.67 L150.00,263.81 L150.50,263.96 L151.00,264.11 L151.50,264.25 L152.00,264.40 L152.50,264.54 L153.00,264.67 L153.50,264.81 L154.00,264.94 L154.50,265.07 L155.00,265.20 L155.50,265.33 L156.00,265.45 L156.50,265.57 L157.00,265.69 L157.50,265.80 L158.00,265.91 L158.50,266.02 L159.00,266.13 L159.50,266.23 L160.00,266.33 L160.50,266.42 L161.00,266.52 L161.50,266.61 L162.00,266.70 L162.50,266.79 L163.00,266.87 L163.50,266.95 L164.00,267.03 L164.50,267.11 L165.00,267.18 L165.50,267.26 L166.00,267.33 L166.50,267.39 L167.00,267.46 L167.50,267.53 L168.00,267.59 L168.50,267.65 L169.00,267.71 L169.50,267.77 L170.00,267.82 L170.50,267.88 L171.00,267.93 L171.50,267.98 L172.00,268.03 L172.50,268.08 L173.00,268.12 L173.50,268.17 L174.00,268.21 L174.50,268.26 L175.00,268.30 L175.50,268.34 L176.00,268.38 L176.50,268.42 L177.00,268.45 L177.50,268.49 L178.00,268.53 L178.50,268.56 L179.00,268.59 L179.50,268.63 L180.00,268.66 L180.50,268.69 L181.00,268.72 L181.50,268.75 L182.00,268.78 L182.50,268.81 L183.00,268.83 L183.50,268.86 L184.00,268.89 L184.50,268.91 L185.00,268.94 L185.50,268.96 L186.00,268.98 L186.50,269.01 L187.00,269.03 L187.50,269.05 L188.00,269.07 L188.50,269.09 L189.00,269.11 L189.50,269.13 L190.00,269.15 L190.50,269.17 L191.00,269.19 L191.50,269.20 L192.00,269.22 L192.50,269.24 L193.00,269.26 L193.50,269.27 L194.00,269.29 L194.50,269.30 L195.00,269.32 L195.50,269.33 L196.00,269.35 L196.50,269.36 L197.00,269.38 L197.50,269.39 L198.00,269.40 L198.50,269.42 L199.00,269.43 L199.50,269.44 L200.00,269.46 L200.50,269.47 L201.00,269.48 L201.50,269.49 L202.00,269.50 L202.50,269.51 L203.00,269.52 L203.50,269.53 L204.00,269.55 L204.50,269.56 L205.00,269.57 L205.50,269.58 L206.00,269.58 L206.50,269.59 L207.00,269.60 L207.50,269.61 L208.00,269.62 L208.50,269.63 L209.00,269.64 L209.50,269.65 L210.00,269.66 L210.50,269.66 L211.00,269.67 L211.50,269.68 L212.00,269.69 L212.50,269.70 L213.00,269.70 L213.50,269.71 L214.00,269.72 L214.50,269.72 L215.00,269.73 L215.50,269.74 L216.00,269.74 L216.50,269.75 L217.00,269.76 L217.50,269.76 L218.00,269.77 L218.50,269.78 L219.00,269.78 L219.50,269.79 L220.00,269.79 L220.50,269.80 L221.00,269.81 L221.50,269.81 L222.00,269.82 L222.50,269.82 L223.00,269.83 L223.50,269.83 L224.00,269.84 L224.50,269.84 L225.00,269.85 L225.50,269.85 L226.00,269.86 L226.50,269.86 L227.00,269.87 L227.50,269.87 L228.00,269.87 L228.50,269.88 L229.00,269.88 L229.50,269.89 L230.00,269.89 L230.50,269.90 L231.00,269.90 L231.50,269.90 L232.00,269.91 L232.50,269.91 L233.00,269.92 L233.50,269.92 L234.00,269.92 L234.50,269.93 L235.00,269.93 L235.50,269.93 L236.00,269.94 L236.50,269.94 L237.00,269.95 L237.50,269.95 L238.00,269.95 L238.50,269.96 L239.00,269.96 L239.50,269.96 L240.00,269.96 L240.50,269.97 L241.00,269.97 L241.50,269.97 L242.00,269.98 L242.50,269.98 L243.00,269.98 L243.50,269.99 L244.00,269.99 L244.50,269.99 L245.00,269.99 L245.50,270.00 L246.00,270.00 L246.50,270.00 L247.00,270.00 L247.50,270.01 L248.00,270.01 L248.50,270.01 L249.00,270.01 L249.50,270.02 L250.00,270.02 L250.50,270.02 L251.00,270.02 L251.50,270.03 L252.00,270.03 L252.50,270.03 L253.00,270.03 L253.50,270.04 L254.00,270.04 L254.50,270.04 L255.00,270.04 L255.50,270.04 L256.00,270.05 L256.50,270.05 L257.00,270.05 L257.50,270.05 L258.00,270.05 L258.50,270.06 L259.00,270.06 L259.50,270.06 L260.00,270.06 L260.50,270.06 L261.00,270.07 L261.50,270.07 L262.00,270.07 L262.50,270.07 L263.00,270.07 L263.50,270.07 L264.00,270.08 L264.50,270.08 L265.00,270.08 L265.50,270.08 L266.00,270.08 L266.50,270.09 L267.00,270.09 L267.50,270.09 L268.00,270.09 L268.50,270.09 L269.00,270.09 L269.50,270.09 L270.00,270.10 L270.50,270.10 L271.00,270.10 L271.50,270.10 L272.00,270.10 L272.50,270.10 L273.00,270.10 L273.50,270.11 L274.00,270.11 L274.50,270.11 L275.00,270.11 L275.50,270.11 L276.00,270.11 L276.50,270.11 L277.00,270.12 L277.50,270.12 L278.00,270.12 L278.50,270.12 L279.00,270.12 L279.50,270.12 L280.00,270.12 L280.50,270.12 L281.00,270.13 L281.50,270.13 L282.00,270.13 L282.50,270.13 L283.00,270.13 L283.50,270.13 L284.00,270.13 L284.50,270.13 L285.00,270.13 L285.50,270.14 L286.00,270.14 L286.50,270.14 L287.00,270.14 L287.50,270.14 L288.00,270.14 L288.50,270.14 L289.00,270.14 L289.50,270.14 L290.00,270.14 L290.50,270.15 L291.00,270.15 L291.50,270.15 L292.00,270.15 L292.50,270.15 L293.00,270.15 L293.50,270.15 L294.00,270.15 L294.50,270.15 L295.00,270.15 L295.50,270.16 L296.00,270.16 L296.50,270.16 L297.00,270.16 L297.50,270.16 L298.00,270.16 L298.50,270.16 L299.00,270.16 L299.50,270.16 L300.00,270.16 L300.50,270.16 L301.00,270.16 L301.50,270.17 L302.00,270.17 L302.50,270.17 L303.00,270.17 L303.50,270.17 L304.00,270.17 L304.50,270.17 L305.00,270.17 L305.50,270.17 L306.00,270.17 L306.50,270.17 L307.00,270.17 L307.50,270.17 L308.00,270.18 L308.50,270.18 L309.00,270.18 L309.50,270.18 L310.00,270.18 L310.50,270.18 L311.00,270.18 L311.50,270.18 L312.00,270.18 L312.50,270.18 L313.00,270.18 L313.50,270.18 L314.00,270.18 L314.50,270.18 L315.00,270.18 L315.50,270.19 L316.00,270.19 L316.50,270.19 L317.00,270.19 L317.50,270.19 L318.00,270.19 L318.50,270.19 L319.00,270.19 L319.50,270.19 L320.00,270.19 L320.50,270.19 L321.00,270.19 L321.50,270.19 L322.00,270.19 L322.50,270.19 L323.00,270.19 L323.50,270.20 L324.00,270.20 L324.50,270.20 L325.00,270.20 L325.50,270.20 L326.00,270.20 L326.50,270.20 L327.00,270.20 L327.50,270.20 L328.00,270.20 L328.50,270.20 L329.00,270.20 L329.50,270.20 L330.00,270.20 L330.50,270.20 L331.00,270.20 L331.50,270.20 L332.00,270.20 L332.50,270.20 L333.00,270.20 L333.50,270.21 L334.00,270.21 L334.50,270.21 L335.00,270.21 L335.50,270.21 L336.00,270.21 L336.50,270.21 L337.00,270.21 L337.50,270.21 L338.00,270.21 L338.50,270.21 L339.00,270.21 L339.50,270.21 L340.00,270.21 L340.50,270.21 L341.00,270.21 L341.50,270.21 L342.00,270.21 L342.50,270.21 L343.00,270.21 L343.50,270.21 L344.00,270.21 L344.50,270.22 L345.00,270.22 L345.50,270.22 L346.00,270.22 L346.50,270.22 L347.00,270.22 L347.50,270.22 L348.00,270.22 L348.50,270.22 L349.00,270.22 L349.50,270.22 L350.00,270.22 L350.50,270.22 L351.00,270.22 L351.50,270.22 L352.00,270.22 L352.50,270.22 L353.00,270.22 L353.50,270.22 L354.00,270.22 L354.50,270.22 L355.00,270.22 L355.50,270.22 L356.00,270.22 L356.50,270.22 L357.00,270.22 L357.50,270.22 L358.00,270.23 L358.50,270.23 L359.00,270.23 L359.50,270.23 L360.00,270.23 L360.50,270.23 L361.00,270.23 L361.50,270.23 L362.00,270.23 L362.50,270.23 L363.00,270.23 L363.50,270.23 L364.00,270.23 L364.50,270.23 L365.00,270.23 L365.50,270.23 L366.00,270.23 L366.50,270.23 L367.00,270.23 L367.50,270.23 L368.00,270.23 L368.50,270.23 L369.00,270.23 L369.50,270.23 L370.00,270.23 L370.50,270.23 L371.00,270.23 L371.50,270.23 L372.00,270.23 L372.50,270.23 L373.00,270.23 L373.50,270.23 L374.00,270.23 L374.50,270.24 L375.00,270.24 L375.50,270.24 L376.00,270.24 L376.50,270.24 L377.00,270.24 L377.50,270.24 L378.00,270.24 L378.50,270.24 L379.00,270.24 L379.50,270.24 L380.00,270.24 L380.50,270.24 L381.00,270.24 L381.50,270.24 L382.00,270.24 L382.50,270.24 L383.00,270.24 L383.50,270.24 L384.00,270.24 L384.50,270.24 L385.00,270.24 L385.50,270.24 L386.00,270.24 L386.50,270.24 L387.00,270.24 L387.50,270.24 L388.00,270.24 L388.50,270.24 L389.00,270.24 L389.50,270.24 L390.00,270.24 L390.50,270.24 L391.00,270.24 L391.50,270.24 L392.00,270.24 L392.50,270.24 L393.00,270.24 L393.50,270.24 L394.00,270.24 L394.50,270.24 L395.00,270.24 L395.50,270.25 L396.00,270.25 L396.50,270.25 L397.00,270.25 L397.50,270.25 L398.00,270.25 L398.50,270.25 L399.00,270.25 L399.50,270.25 L400.00,270.25 L400.50,270.25 L401.00,270.25 L401.50,270.25 L402.00,270.25 L402.50,270.25 L403.00,270.25 L403.50,270.25 L404.00,270.25 L404.50,270.25 L405.00,270.25 L405.50,270.25 L406.00,270.25 L406.50,270.25 L407.00,270.25 L407.50,270.25 L408.00,270.25 L408.50,270.25 L409.00,270.25 L409.50,270.25 L410.00,270.25 L410.50,270.25 L411.00,270.25 L411.50,270.25 L412.00,270.25 L412.50,270.25 L413.00,270.25 L413.50,270.25 L414.00,270.25 L414.50,270.25 L415.00,270.25 L415.50,270.25 L416.00,270.25 L416.50,270.25 L417.00,270.25 L417.50,270.25 L418.00,270.25 L418.50,270.25 L419.00,270.25 L419.50,270.25 L420.00,270.25 L420.50,270.25 L421.00,270.25 L421.50,270.25 L422.00,270.25 L422.50,270.25 L423.00,270.26 L423.50,270.26 L424.00,270.26 L424.50,270.26 L425.00,270.26 L425.50,270.26 L426.00,270.26 L426.50,270.26 L427.00,270.26 L427.50,270.26 L428.00,270.26 L428.50,270.26 L429.00,270.26 L429.50,270.26 L430.00,270.26 L430.50,270.26 L431.00,270.26 L431.50,270.26 L432.00,270.26 L432.50,270.26 L433.00,270.26 L433.50,270.26 L434.00,270.26 L434.50,270.26 L435.00,270.26 L435.50,270.26 L436.00,270.26 L436.50,270.26 L437.00,270.26 L437.50,270.26 L438.00,270.26 L438.50,270.26 L439.00,270.26 L439.50,270.26 L440.00,270.26 L440.50,270.26 L441.00,270.26 L441.50,270.26 L442.00,270.26 L442.50,270.26 L443.00,270.26 L443.50,270.26 L444.00,270.26 L444.50,270.26 L445.00,270.26 L445.50,270.26 L446.00,270.26 L446.50,270.26 L447.00,270.26 L447.50,270.26 L448.00,270.26 L448.50,270.26 L449.00,270.26 L449.50,270.26 L450.00,270.26 L450.50,270.26 L451.00,270.26 L451.50,270.26 L452.00,270.26 L452.50,270.26 L453.00,270.26 L453.50,270.26 L454.00,270.26 L454.50,270.26 L455.00,270.26 L455.50,270.26 L456.00,270.26 L456.50,270.26 L457.00,270.26 L457.50,270.26 L458.00,270.26 L458.50,270.26 L459.00,270.26 L459.50,270.26 L460.00,270.26 L460.50,270.26 L461.00,270.26 L461.50,270.27 L462.00,270.27 L462.50,270.27 L463.00,270.27 L463.50,270.27 L464.00,270.27 L464.50,270.27 L465.00,270.27 L465.50,270.27 L466.00,270.27 L466.50,270.27 L467.00,270.27 L467.50,270.27 L468.00,270.27 L468.50,270.27 L469.00,270.27 L469.50,270.27 L470.00,270.27 L470.50,270.27 L471.00,270.27 L471.50,270.27 L472.00,270.27 L472.50,270.27 L473.00,270.27 L473.50,270.27 L474.00,270.27 L474.50,270.27 L475.00,270.27 L475.50,270.27 L476.00,270.27 L476.50,270.27 L477.00,270.27 L477.50,270.27 L478.00,270.27 L478.50,270.27 L479.00,270.27 L479.50,270.27 L480.00,270.27 L480.50,270.27 L481.00,270.27 L481.50,270.27 L482.00,270.27 L482.50,270.27 L483.00,270.27 L483.50,270.27 L484.00,270.27 L484.50,270.27 L485.00,270.27 L485.50,270.27 L486.00,270.27 L486.50,270.27 L487.00,270.27 L487.50,270.27 L488.00,270.27 L488.50,270.27 L489.00,270.27 L489.50,270.27 L490.00,270.27 L490.50,270.27 L491.00,270.27 L491.50,270.27 L492.00,270.27 L492.50,270.27 L493.00,270.27 L493.50,270.27 L494.00,270.27 L494.50,270.27 L495.00,270.27 L495.50,270.27 L496.00,270.27 L496.50,270.27 L497.00,270.27 L497.50,270.27 L498.00,270.27 L498.50,270.27 L499.00,270.27 L499.50,270.27 L500.00,270.27" fill="none" stroke="#a5a5a5" stroke-width="1.5"/>
<path d="M80.00,270.26 L80.50,270.26 L81.00,270.26 L81.50,270.26 L82.00,270.26 L82.50,270.26 L83.00,270.26 L83.50,270.26 L84.00,270.26 L84.50,270.26 L85.00,270.26 L85.50,270.26 L86.00,270.26 L86.50,270.26 L87.00,270.26 L87.50,270.26 L88.00,270.26 L88.50,270.26 L89.00,270.26 L89.50,270.26 L90.00,270.26 L90.50,270.26 L91.00,270.26 L91.50,270.26 L92.00,270.26 L92.50,270.26 L93.00,270.26 L93.50,270.26 L94.00,270.26 L94.50,270.26 L95.00,270.26 L95.50,270.26 L96.00,270.26 L96.50,270.26 L97.00,270.26 L97.50,270.26 L98.00,270.26 L98.50,270.26 L99.00,270.26 L99.50,270.26 L100.00,270.26 L100.50,270.26 L101.00,270.26 L101.50,270.26 L102.00,270.26 L102.50,270.26 L103.00,270.25 L103.50,270.25 L104.00,270.25 L104.50,270.25 L105.00,270.25 L105.50,270.25 L106.00,270.25 L106.50,270.25 L107.00,270.25 L107.50,270.25 L108.00,270.25 L108.50,270.25 L109.00,270.25 L109.50,270.25 L110.00,270.25 L110.50,270.25 L111.00,270.25 L111.50,270.25 L112.00,270.25 L112.50,270.25 L113.00,270.25 L113.50,270.25 L114.00,270.25 L114.50,270.25 L115.00,270.25 L115.50,270.25 L116.00,270.25 L116.50,270.25 L117.00,270.25 L117.50,270.25 L118.00,270.25 L118.50,270.25 L119.00,270.25 L119.50,270.25 L120.00,270.25 L120.50,270.25 L121.00,270.25 L121.50,270.25 L122.00,270.25 L122.50,270.25 L123.00,270.25 L123.50,270.24 L124.00,270.24 L124.50,270.24 L125.00,270.24 L125.50,270.24 L126.00,270.24 L126.50,270.24 L127.00,270.24 L127.50,270.24 L128.00,270.24 L128.50,270.24 L129.00,270.24 L129.50,270.24 L130.00,270.24 L130.50,270.24 L131.00,270.24 L131.50,270.24 L132.00,270.24 L132.50,270.24 L133.00,270.24 L133.50,270.24 L134.00,270.24 L134.50,270.24 L135.00,270.24 L135.50,270.24 L136.00,270.24 L136.50,270.24 L137.00,270.24 L137.50,270.24 L138.00,270.24 L138.50,270.24 L139.00,270.24 L139.50,270.23 L140.00,270.23 L140.50,270.23 L141.00,270.23 L141.50,270.23 L142.00,270.23 L142.50,270.23 L143.00,270.23 L143.50,270.23 L144.00,270.23 L144.50,270.23 L145.00,270.23 L145.50,270.23 L146.00,270.23 L146.50,270.23 L147.00,270.23 L147.50,270.23 L148.00,270.23 L148.50,270.23 L149.00,270.23 L149.50,270.23 L150.00,270.23 L150.50,270.23 L151.00,270.23 L151.50,270.23 L152.00,270.22 L152.50,270.22 L153.00,270.22 L153.50,270.22 L154.00,270.22 L154.50,270.22 L155.00,270.22 L155.50,270.22 L156.00,270.22 L156.50,270.22 L157.00,270.22 L157.50,270.22 L158.00,270.22 L158.50,270.22 L159.00,270.22 L159.50,270.22 L160.00,270.22 L160.50,270.22 L161.00,270.22 L161.50,270.22 L162.00,270.21 L162.50,270.21 L163.00,270.21 L163.50,270.21 L164.00,270.21 L164.50,270.21 L165.00,270.21 L165.50,270.21 L166.00,270.21 L166.50,270.21 L167.00,270.21 L167.50,270.21 L168.00,270.21 L168.50,270.21 L169.00,270.21 L169.50,270.21 L170.00,270.21 L170.50,270.21 L171.00,270.20 L171.50,270.20 L172.00,270.20 L172.50,270.20 L173.00,270.20 L173.50,270.20 L174.00,270.20 L174.50,270.20 L175.00,270.20 L175.50,270.20 L176.00,270.20 L176.50,270.20 L177.00,270.20 L177.50,270.20 L178.00,270.19 L178.50,270.19 L179.00,270.19 L179.50,270.19 L180.00,270.19 L180.50,270.19 L181.00,270.19 L181.50,270.19 L182.00,270.19 L182.50,270.19 L183.00,270.19 L183.50,270.19 L184.00,270.19 L184.50,270.18 L185.00,270.18 L185.50,270.18 L186.00,270.18 L186.50,270.18 L187.00,270.18 L187.50,270.18 L188.00,270.18 L188.50,270.18 L189.00,270.18 L189.50,270.18 L190.00,270.17 L190.50,270.17 L191.00,270.17 L191.50,270.17 L192.00,270.17 L192.50,270.17 L193.00,270.17 L193.50,270.17 L194.00,270.17 L194.50,270.17 L195.00,270.16 L195.50,270.16 L196.00,270.16 L196.50,270.16 L197.00,270.16 L197.50,270.16 L198.00,270.16 L198.50,270.16 L199.00,270.16 L199.50,270.15 L200.00,270.15 L200.50,270.15 L201.00,270.15 L201.50,270.15 L202.00,270.15 L202.50,270.15 L203.00,270.15 L203.50,270.14 L204.00,270.14 L204.50,270.14 L205.00,270.14 L205.50,270.14 L206.00,270.14 L206.50,270.14 L207.00,270.13 L207.50,270.13 L208.00,270.13 L208.50,270.13 L209.00,270.13 L209.50,270.13 L210.00,270.13 L210.50,270.12 L211.00,270.12 L211.50,270.12 L212.00,270.12 L212.50,270.12 L213.00,270.12 L213.50,270.11 L214.00,270.11 L214.50,270.11 L215.00,270.11 L215.50,270.11 L216.00,270.10 L216.50,270.10 L217.00,270.10 L217.50,270.10 L218.00,270.10 L218.50,270.09 L219.00,270.09 L219.50,270.09 L220.00,270.09 L220.50,270.09 L221.00,270.08 L221.50,270.08 L222.00,270.08 L222.50,270.08 L223.00,270.08 L223.50,270.07 L224.00,270.07 L224.50,270.07 L225.00,270.07 L225.50,270.06 L226.00,270.06 L226.50,270.06 L227.00,270.06 L227.50,270.05 L228.00,270.05 L228.50,270.05 L229.00,270.05 L229.50,270.04 L230.00,270.04 L230.50,270.04 L231.00,270.03 L231.50,270.03 L232.00,270.03 L232.50,270.02 L233.00,270.02 L233.50,270.02 L234.00,270.02 L234.50,270.01 L235.00,270.01 L235.50,270.00 L236.00,270.00 L236.50,270.00 L237.00,269.99 L237.50,269.99 L238.00,269.99 L238.50,269.98 L239.00,269.98 L239.50,269.98 L240.00,269.97 L240.50,269.97 L241.00,269.96 L241.50,269.96 L242.00,269.95 L242.50,269.95 L243.00,269.95 L243.50,269.94 L244.00,269.94 L244.50,269.93 L245.00,269.93 L245.50,269.92 L246.00,269.92 L246.50,269.91 L247.00,269.91 L247.50,269.90 L248.00,269.90 L248.50,269.89 L249.00,269.88 L249.50,269.88 L250.00,269.87 L250.50,269.87 L251.00,269.86 L251.50,269.85 L252.00,269.85 L252.50,269.84 L253.00,269.83 L253.50,269.83 L254.00,269.82 L254.50,269.81 L255.00,269.81 L255.50,269.80 L256.00,269.79 L256.50,269.78 L257.00,269.77 L257.50,269.77 L258.00,269.76 L258.50,269.75 L259.00,269.74 L259.50,269.73 L260.00,269.72 L260.50,269.71 L261.00,269.70 L261.50,269.69 L262.00,269.68 L262.50,269.67 L263.00,269.66 L263.50,269.65 L264.00,269.64 L264.50,269.63 L265.00,269.61 L265.50,269.60 L266.00,269.59 L266.50,269.58 L267.00,269.56 L267.50,269.55 L268.00,269.54 L268.50,269.52 L269.00,269.51 L269.50,269.49 L270.00,269.48 L270.50,269.46 L271.00,269.44 L271.50,269.43 L272.00,269.41 L272.50,269.39 L273.00,269.37 L273.50,269.35 L274.00,269.33 L274.50,269.31 L275.00,269.29 L275.50,269.27 L276.00,269.25 L276.50,269.22 L277.00,269.20 L277.50,269.17 L278.00,269.15 L278.50,269.12 L279.00,269.09 L279.50,269.07 L280.00,269.04 L280.50,269.01 L281.00,268.98 L281.50,268.94 L282.00,268.91 L282.50,268.87 L283.00,268.84 L283.50,268.80 L284.00,268.76 L284.50,268.72 L285.00,268.68 L285.50,268.63 L286.00,268.59 L286.50,268.54 L287.00,268.49 L287.50,268.44 L288.00,268.39 L288.50,268.33 L289.00,268.27 L289.50,268.21 L290.00,268.15 L290.50,268.08 L291.00,268.01 L291.50,267.94 L292.00,267.86 L292.50,267.78 L293.00,267.70 L293.50,267.61 L294.00,267.52 L294.50,267.43 L295.00,267.33 L295.50,267.22 L296.00,267.11 L296.50,266.99 L297.00,266.87 L297.50,266.74 L298.00,266.60 L298.50,266.46 L299.00,266.31 L299.50,266.15 L300.00,265.98 L300.50,265.80 L301.00,265.61 L301.50,265.41 L302.00,265.20 L302.50,264.97 L303.00,264.74 L303.50,264.49 L304.00,264.22 L304.50,263.94 L305.00,263.63 L305.50,263.32 L306.00,262.98 L306.50,262.62 L307.00,262.24 L307.50,261.84 L308.00,261.41 L308.50,260.96 L309.00,260.48 L309.50,259.98 L310.00,259.45 L310.50,258.90 L311.00,258.32 L311.50,257.71 L312.00,257.08 L312.50,256.43 L313.00,255.76 L313.50,255.08 L314.00,254.39 L314.50,253.70 L315.00,253.02 L315.50,252.35 L316.00,251.72 L316.50,251.12 L317.00,250.58 L317.50,250.10 L318.00,249.70 L318.50,249.39 L319.00,249.17 L319.50,249.05 L320.00,249.04 L320.50,249.14 L321.00,249.34 L321.50,249.63 L322.00,250.02 L322.50,250.48 L323.00,251.01 L323.50,251.60 L324.00,252.22 L324.50,252.88 L325.00,253.56 L325.50,254.25 L326.00,254.94 L326.50,255.62 L327.00,256.30 L327.50,256.95 L328.00,257.59 L328.50,258.20 L329.00,258.78 L329.50,259.34 L330.00,259.88 L330.50,260.39 L331.00,260.87 L331.50,261.32 L332.00,261.75 L332.50,262.16 L333.00,262.55 L333.50,262.91 L334.00,263.25 L334.50,263.57 L335.00,263.88 L335.50,264.16 L336.00,264.43 L336.50,264.69 L337.00,264.93 L337.50,265.15 L338.00,265.37 L338.50,265.57 L339.00,265.76 L339.50,265.94 L340.00,266.11 L340.50,266.28 L341.00,266.43 L341.50,266.58 L342.00,266.71 L342.50,266.84 L343.00,266.97 L343.50,267.09 L344.00,267.20 L344.50,267.31 L345.00,267.41 L345.50,267.50 L346.00,267.60 L346.50,267.68 L347.00,267.77 L347.50,267.85 L348.00,267.92 L348.50,268.00 L349.00,268.07 L349.50,268.13 L350.00,268.20 L350.50,268.26 L351.00,268.32 L351.50,268.38 L352.00,268.43 L352.50,268.48 L353.00,268.53 L353.50,268.58 L354.00,268.63 L354.50,268.67 L355.00,268.71 L355.50,268.75 L356.00,268.79 L356.50,268.83 L357.00,268.87 L357.50,268.90 L358.00,268.94 L358.50,268.97 L359.00,269.00 L359.50,269.03 L360.00,269.06 L360.50,269.09 L361.00,269.12 L361.50,269.14 L362.00,269.17 L362.50,269.19 L363.00,269.22 L363.50,269.24 L364.00,269.26 L364.50,269.29 L365.00,269.31 L365.50,269.33 L366.00,269.35 L366.50,269.37 L367.00,269.39 L367.50,269.40 L368.00,269.42 L368.50,269.44 L369.00,269.46 L369.50,269.47 L370.00,269.49 L370.50,269.50 L371.00,269.52 L371.50,269.53 L372.00,269.55 L372.50,269.56 L373.00,269.57 L373.50,269.59 L374.00,269.60 L374.50,269.61 L375.00,269.62 L375.50,269.64 L376.00,269.65 L376.50,269.66 L377.00,269.67 L377.50,269.68 L378.00,269.69 L378.50,269.70 L379.00,269.71 L379.50,269.72 L380.00,269.73 L380.50,269.74 L381.00,269.75 L381.50,269.76 L382.00,269.76 L382.50,269.77 L383.00,269.78 L383.50,269.79 L384.00,269.80 L384.50,269.80 L385.00,269.81 L385.50,269.82 L386.00,269.83 L386.50,269.83 L387.00,269.84 L387.50,269.85 L388.00,269.85 L388.50,269.86 L389.00,269.87 L389.50,269.87 L390.00,269.88 L390.50,269.88 L391.00,269.89 L391.50,269.89 L392.00,269.90 L392.50,269.91 L393.00,269.91 L393.50,269.92 L394.00,269.92 L394.50,269.93 L395.00,269.93 L395.50,269.94 L396.00,269.94 L396.50,269.94 L397.00,269.95 L397.50,269.95 L398.00,269.96 L398.50,269.96 L399.00,269.97 L399.50,269.97 L400.00,269.97 L400.50,269.98 L401.00,269.98 L401.50,269.99 L402.00,269.99 L402.50,269.99 L403.00,270.00 L403.50,270.00 L404.00,270.00 L404.50,270.01 L405.00,270.01 L405.50,270.01 L406.00,270.02 L406.50,270.02 L407.00,270.02 L407.50,270.03 L408.00,270.03 L408.50,270.03 L409.00,270.04 L409.50,270.04 L410.00,270.04 L410.50,270.04 L411.00,270.05 L411.50,270.05 L412.00,270.05 L412.50,270.06 L413.00,270.06 L413.50,270.06 L414.00,270.06 L414.50,270.07 L415.00,270.07 L415.50,270.07 L416.00,270.07 L416.50,270.07 L417.00,270.08 L417.50,270.08 L418.00,270.08 L418.50,270.08 L419.00,270.09 L419.50,270.09 L420.00,270.09 L420.50,270.09 L421.00,270.09 L421.50,270.10 L422.00,270.10 L422.50,270.10 L423.00,270.10 L423.50,270.10 L424.00,270.11 L424.50,270.11 L425.00,270.11 L425.50,270.11 L426.00,270.11 L426.50,270.11 L427.00,270.12 L427.50,270.12 L428.00,270.12 L428.50,270.12 L429.00,270.12 L429.50,270.12 L430.00,270.13 L430.50,270.13 L431.00,270.13 L431.50,270.13 L432.00,270.13 L432.50,270.13 L433.00,270.14 L433.50,270.14 L434.00,270.14 L434.50,270.14 L435.00,270.14 L435.50,270.14 L436.00,270.14 L436.50,270.14 L437.00,270.15 L437.50,270.15 L438.00,270.15 L438.50,270.15 L439.00,270.15 L439.50,270.15 L440.00,270.15 L440.50,270.16 L441.00,270.16 L441.50,270.16 L442.00,270.16 L442.50,270.16 L443.00,270.16 L443.50,270.16 L444.00,270.16 L444.50,270.16 L445.00,270.17 L445.50,270.17 L446.00,270.17 L446.50,270.17 L447.00,270.17 L447.50,270.17 L448.00,270.17 L448.50,270.17 L449.00,270.17 L449.50,270.17 L450.00,270.18 L450.50,270.18 L451.00,270.18 L451.50,270.18 L452.00,270.18 L452.50,270.18 L453.00,270.18 L453.50,270.18 L454.00,270.18 L454.50,270.18 L455.00,270.18 L455.50,270.19 L456.00,270.19 L456.50,270.19 L457.00,270.19 L457.50,270.19 L458.00,270.19 L458.50,270.19 L459.00,270.19 L459.50,270.19 L460.00,270.19 L460.50,270.19 L461.00,270.19 L461.50,270.19 L462.00,270.20 L462.50,270.20 L463.00,270.20 L463.50,270.20 L464.00,270.20 L464.50,270.20 L465.00,270.20 L465.50,270.20 L466.00,270.20 L466.50,270.20 L467.00,270.20 L467.50,270.20 L468.00,270.20 L468.50,270.20 L469.00,270.20 L469.50,270.21 L470.00,270.21 L470.50,270.21 L471.00,270.21 L471.50,270.21 L472.00,270.21 L472.50,270.21 L473.00,270.21 L473.50,270.21 L474.00,270.21 L474.50,270.21 L475.00,270.21 L475.50,270.21 L476.00,270.21 L476.50,270.21 L477.00,270.21 L477.50,270.21 L478.00,270.22 L478.50,270.22 L479.00,270.22 L479.50,270.22 L480.00,270.22 L480.50,270.22 L481.00,270.22 L481.50,270.22 L482.00,270.22 L482.50,270.22 L483.00,270.22 L483.50,270.22 L484.00,270.22 L484.50,270.22 L485.00,270.22 L485.50,270.22 L486.00,270.22 L486.50,270.22 L487.00,270.22 L487.50,270.22 L488.00,270.23 L488.50,270.23 L489.00,270.23 L489.50,270.23 L490.00,270.23 L490.50,270.23 L491.00,270.23 L491.50,270.23 L492.00,270.23 L492.50,270.23 L493.00,270.23 L493.50,270.23 L494.00,270.23 L494.50,270.23 L495.00,270.23 L495.50,270.23 L496.00,270.23 L496.50,270.23 L497.00,270.23 L497.50,270.23 L498.00,270.23 L498.50,270.23 L499.00,270.23 L499.50,270.23 L500.00,270.23" fill="none" stroke="#a5a5a5" stroke-width="1.5"/>
<path d="M80.00,270.06 L80.50,270.06 L81.00,270.06 L81.50,270.06 L82.00,270.05 L82.50,270.05 L83.00,270.05 L83.50,270.05 L84.00,270.05 L84.50,270.05 L85.00,270.05 L85.50,270.05 L86.00,270.05 L86.50,270.05 L87.00,270.05 L87.50,270.05 L88.00,270.04 L88.50,270.04 L89.00,270.04 L89.50,270.04 L90.00,270.04 L90.50,270.04 L91.00,270.04 L91.50,270.04 L92.00,270.04 L92.50,270.04 L93.00,270.04 L93.50,270.03 L94.00,270.03 L94.50,270.03 L95.00,270.03 L95.50,270.03 L96.00,270.03 L96.50,270.03 L97.00,270.03 L97.50,270.03 L98.00,270.03 L98.50,270.02 L99.00,270.02 L99.50,270.02 L100.00,270.02 L100.50,270.02 L101.00,270.02 L101.50,270.02 L102.00,270.02 L102.50,270.02 L103.00,270.02 L103.50,270.01 L104.00,270.01 L104.50,270.01 L105.00,270.01 L105.50,270.01 L106.00,270.01 L106.50,270.01 L107.00,270.01 L107.50,270.01 L108.00,270.01 L108.50,270.00 L109.00,270.00 L109.50,270.00 L110.00,270.00 L110.50,270.00 L111.00,270.00 L111.50,270.00 L112.00,270.00 L112.50,270.00 L113.00,269.99 L113.50,269.99 L114.00,269.99 L114.50,269.99 L115.00,269.99 L115.50,269.99 L116.00,269.99 L116.50,269.99 L117.00,269.98 L117.50,269.98 L118.00,269.98 L118.50,269.98 L119.00,269.98 L119.50,269.98 L120.00,269.98 L120.50,269.98 L121.00,269.98 L121.50,269.97 L122.00,269.97 L122.50,269.97 L123.00,269.97 L123.50,269.97 L124.00,269.97 L124.50,269.97 L125.00,269.96 L125.50,269.96 L126.00,269.96 L126.50,269.96 L127.00,269.96 L127.50,269.96 L128.00,269.96 L128.50,269.96 L129.00,269.95 L129.50,269.95 L130.00,269.95 L130.50,269.95 L131.00,269.95 L131.50,269.95 L132.00,269.95 L132.50,269.94 L133.00,269.94 L133.50,269.94 L134.00,269.94 L134.50,269.94 L135.00,269.94 L135.50,269.94 L136.00,269.93 L136.50,269.93 L137.00,269.93 L137.50,269.93 L138.00,269.93 L138.50,269.93 L139.00,269.92 L139.50,269.92 L140.00,269.92 L140.50,269.92 L141.00,269.92 L141.50,269.92 L142.00,269.92 L142.50,269.91 L143.00,269.91 L143.50,269.91 L144.00,269.91 L144.50,269.91 L145.00,269.91 L145.50,269.90 L146.00,269.90 L146.50,269.90 L147.00,269.90 L147.50,269.90 L148.00,269.90 L148.50,269.89 L149.00,269.89 L149.50,269.89 L150.00,269.89 L150.50,269.89 L151.00,269.88 L151.50,269.88 L152.00,269.88 L152.50,269.88 L153.00,269.88 L153.50,269.88 L154.00,269.87 L154.50,269.87 L155.00,269.87 L155.50,269.87 L156.00,269.87 L156.50,269.86 L157.00,269.86 L157.50,269.86 L158.00,269.86 L158.50,269.86 L159.00,269.85 L159.50,269.85 L160.00,269.85 L160.50,269.85 L161.00,269.85 L161.50,269.84 L162.00,269.84 L162.50,269.84 L163.00,269.84 L163.50,269.84 L164.00,269.83 L164.50,269.83 L165.00,269.83 L165.50,269.83 L166.00,269.82 L166.50,269.82 L167.00,269.82 L167.50,269.82 L168.00,269.82 L168.50,269.81 L169.00,269.81 L169.50,269.81 L170.00,269.81 L170.50,269.80 L171.00,269.80 L171.50,269.80 L172.00,269.80 L172.50,269.79 L173.00,269.79 L173.50,269.79 L174.00,269.79 L174.50,269.78 L175.00,269.78 L175.50,269.78 L176.00,269.78 L176.50,269.77 L177.00,269.77 L177.50,269.77 L178.00,269.77 L178.50,269.76 L179.00,269.76 L179.50,269.76 L180.00,269.76 L180.50,269.75 L181.00,269.75 L181.50,269.75 L182.00,269.75 L182.50,269.74 L183.00,269.74 L183.50,269.74 L184.00,269.73 L184.50,269.73 L185.00,269.73 L185.50,269.73 L186.00,269.72 L186.50,269.72 L187.00,269.72 L187.50,269.71 L188.00,269.71 L188.50,269.71 L189.00,269.70 L189.50,269.70 L190.00,269.70 L190.50,269.69 L191.00,269.69 L191.50,269.69 L192.00,269.69 L192.50,269.68 L193.00,269.68 L193.50,269.68 L194.00,269.67 L194.50,269.67 L195.00,269.67 L195.50,269.66 L196.00,269.66 L196.50,269.66 L197.00,269.65 L197.50,269.65 L198.00,269.64 L198.50,269.64 L199.00,269.64 L199.50,269.63 L200.00,269.63 L200.50,269.63 L201.00,269.62 L201.50,269.62 L202.00,269.62 L202.50,269.61 L203.00,269.61 L203.50,269.60 L204.00,269.60 L204.50,269.60 L205.00,269.59 L205.50,269.59 L206.00,269.58 L206.50,269.58 L207.00,269.58 L207.50,269.57 L208.00,269.57 L208.50,269.56 L209.00,269.56 L209.50,269.55 L210.00,269.55 L210.50,269.55 L211.00,269.54 L211.50,269.54 L212.00,269.53 L212.50,269.53 L213.00,269.52 L213.50,269.52 L214.00,269.51 L214.50,269.51 L215.00,269.50 L215.50,269.50 L216.00,269.50 L216.50,269.49 L217.00,269.49 L217.50,269.48 L218.00,269.48 L218.50,269.47 L219.00,269.47 L219.50,269.46 L220.00,269.45 L220.50,269.45 L221.00,269.44 L221.50,269.44 L222.00,269.43 L222.50,269.43 L223.00,269.42 L223.50,269.42 L224.00,269.41 L224.50,269.41 L225.00,269.40 L225.50,269.39 L226.00,269.39 L226.50,269.38 L227.00,269.38 L227.50,269.37 L228.00,269.37 L228.50,269.36 L229.00,269.35 L229.50,269.35 L230.00,269.34 L230.50,269.33 L231.00,269.33 L231.50,269.32 L232.00,269.32 L232.50,269.31 L233.00,269.30 L233.50,269.30 L234.00,269.29 L234.50,269.28 L235.00,269.28 L235.50,269.27 L236.00,269.26 L236.50,269.25 L237.00,269.25 L237.50,269.24 L238.00,269.23 L238.50,269.22 L239.00,269.22 L239.50,269.21 L240.00,269.20 L240.50,269.19 L241.00,269.19 L241.50,269.18 L242.00,269.17 L242.50,269.16 L243.00,269.16 L243.50,269.15 L244.00,269.14 L244.50,269.13 L245.00,269.12 L245.50,269.11 L246.00,269.10 L246.50,269.10 L247.00,269.09 L247.50,269.08 L248.00,269.07 L248.50,269.06 L249.00,269.05 L249.50,269.04 L250.00,269.03 L250.50,269.02 L251.00,269.01 L251.50,269.00 L252.00,268.99 L252.50,268.98 L253.00,268.97 L253.50,268.96 L254.00,268.95 L254.50,268.94 L255.00,268.93 L255.50,268.92 L256.00,268.91 L256.50,268.90 L257.00,268.89 L257.50,268.88 L258.00,268.87 L258.50,268.86 L259.00,268.84 L259.50,268.83 L260.00,268.82 L260.50,268.81 L261.00,268.80 L261.50,268.78 L262.00,268.77 L262.50,268.76 L263.00,268.75 L263.50,268.73 L264.00,268.72 L264.50,268.71 L265.00,268.69 L265.50,268.68 L266.00,268.67 L266.50,268.65 L267.00,268.64 L267.50,268.63 L268.00,268.61 L268.50,268.60 L269.00,268.58 L269.50,268.57 L270.00,268.55 L270.50,268.54 L271.00,268.52 L271.50,268.51 L272.00,268.49 L272.50,268.47 L273.00,268.46 L273.50,268.44 L274.00,268.42 L274.50,268.41 L275.00,268.39 L275.50,268.37 L276.00,268.36 L276.50,268.34 L277.00,268.32 L277.50,268.30 L278.00,268.28 L278.50,268.26 L279.00,268.24 L279.50,268.23 L280.00,268.21 L280.50,268.19 L281.00,268.17 L281.50,268.15 L282.00,268.12 L282.50,268.10 L283.00,268.08 L283.50,268.06 L284.00,268.04 L284.50,268.02 L285.00,267.99 L285.50,267.97 L286.00,267.95 L286.50,267.92 L287.00,267.90 L287.50,267.88 L288.00,267.85 L288.50,267.83 L289.00,267.80 L289.50,267.78 L290.00,267.75 L290.50,267.72 L291.00,267.70 L291.50,267.67 L292.00,267.64 L292.50,267.61 L293.00,267.59 L293.50,267.56 L294.00,267.53 L294.50,267.50 L295.00,267.47 L295.50,267.44 L296.00,267.41 L296.50,267.37 L297.00,267.34 L297.50,267.31 L298.00,267.28 L298.50,267.24 L299.00,267.21 L299.50,267.17 L300.00,267.14 L300.50,267.10 L301.00,267.07 L301.50,267.03 L302.00,266.99 L302.50,266.95 L303.00,266.91 L303.50,266.87 L304.00,266.83 L304.50,266.79 L305.00,266.75 L305.50,266.71 L306.00,266.67 L306.50,266.62 L307.00,266.58 L307.50,266.53 L308.00,266.49 L308.50,266.44 L309.00,266.39 L309.50,266.34 L310.00,266.29 L310.50,266.24 L311.00,266.19 L311.50,266.14 L312.00,266.09 L312.50,266.03 L313.00,265.98 L313.50,265.92 L314.00,265.87 L314.50,265.81 L315.00,265.75 L315.50,265.69 L316.00,265.63 L316.50,265.57 L317.00,265.50 L317.50,265.44 L318.00,265.37 L318.50,265.30 L319.00,265.24 L319.50,265.17 L320.00,265.10 L320.50,265.02 L321.00,264.95 L321.50,264.88 L322.00,264.80 L322.50,264.72 L323.00,264.64 L323.50,264.56 L324.00,264.48 L324.50,264.40 L325.00,264.31 L325.50,264.22 L326.00,264.13 L326.50,264.04 L327.00,263.95 L327.50,263.86 L328.00,263.76 L328.50,263.66 L329.00,263.56 L329.50,263.46 L330.00,263.36 L330.50,263.25 L331.00,263.14 L331.50,263.03 L332.00,262.92 L332.50,262.80 L333.00,262.69 L333.50,262.57 L334.00,262.45 L334.50,262.32 L335.00,262.20 L335.50,262.07 L336.00,261.94 L336.50,261.80 L337.00,261.66 L337.50,261.52 L338.00,261.38 L338.50,261.24 L339.00,261.09 L339.50,260.94 L340.00,260.78 L340.50,260.63 L341.00,260.47 L341.50,260.31 L342.00,260.14 L342.50,259.97 L343.00,259.80 L343.50,259.62 L344.00,259.45 L344.50,259.26 L345.00,259.08 L345.50,258.89 L346.00,258.70 L346.50,258.50 L347.00,258.31 L347.50,258.10 L348.00,257.90 L348.50,257.69 L349.00,257.48 L349.50,257.26 L350.00,257.05 L350.50,256.83 L351.00,256.60 L351.50,256.37 L352.00,256.14 L352.50,255.91 L353.00,255.67 L353.50,255.43 L354.00,255.19 L354.50,254.95 L355.00,254.70 L355.50,254.45 L356.00,254.20 L356.50,253.95 L357.00,253.69 L357.50,253.44 L358.00,253.18 L358.50,252.92 L359.00,252.66 L359.50,252.40 L360.00,252.14 L360.50,251.88 L361.00,251.62 L361.50,251.37 L362.00,251.11 L362.50,250.85 L363.00,250.60 L363.50,250.35 L364.00,250.10 L364.50,249.86 L365.00,249.62 L365.50,249.38 L366.00,249.15 L366.50,248.93 L367.00,248.71 L367.50,248.50 L368.00,248.29 L368.50,248.09 L369.00,247.90 L369.50,247.72 L370.00,247.55 L370.50,247.39 L371.00,247.23 L371.50,247.09 L372.00,246.96 L372.50,246.84 L373.00,246.73 L373.50,246.63 L374.00,246.55 L374.50,246.48 L375.00,246.42 L375.50,246.37 L376.00,246.34 L376.50,246.32 L377.00,246.31 L377.50,246.32 L378.00,246.34 L378.50,246.37 L379.00,246.42 L379.50,246.48 L380.00,246.55 L380.50,246.63 L381.00,246.73 L381.50,246.84 L382.00,246.96 L382.50,247.09 L383.00,247.23 L383.50,247.39 L384.00,247.55 L384.50,247.72 L385.00,247.90 L385.50,248.09 L386.00,248.29 L386.50,248.50 L387.00,248.71 L387.50,248.93 L388.00,249.15 L388.50,249.38 L389.00,249.62 L389.50,249.86 L390.00,250.10 L390.50,250.35 L391.00,250.60 L391.50,250.85 L392.00,251.11 L392.50,251.37 L393.00,251.62 L393.50,251.88 L394.00,252.14 L394.50,252.40 L395.00,252.66 L395.50,252.92 L396.00,253.18 L396.50,253.44 L397.00,253.69 L397.50,253.95 L398.00,254.20 L398.50,254.45 L399.00,254.70 L399.50,254.95 L400.00,255.19 L400.50,255.43 L401.00,255.67 L401.50,255.91 L402.00,256.14 L402.50,256.37 L403.00,256.60 L403.50,256.83 L404.00,257.05 L404.50,257.26 L405.00,257.48 L405.50,257.69 L406.00,257.90 L406.50,258.10 L407.00,258.31 L407.50,258.50 L408.00,258.70 L408.50,258.89 L409.00,259.08 L409.50,259.26 L410.00,259.45 L410.50,259.62 L411.00,259.80 L411.50,259.97 L412.00,260.14 L412.50,260.31 L413.00,260.47 L413.50,260.63 L414.00,260.78 L414.50,260.94 L415.00,261.09 L415.50,261.24 L416.00,261.38 L416.50,261.52 L417.00,261.66 L417.50,261.80 L418.00,261.94 L418.50,262.07 L419.00,262.20 L419.50,262.32 L420.00,262.45 L420.50,262.57 L421.00,262.69 L421.50,262.80 L422.00,262.92 L422.50,263.03 L423.00,263.14 L423.50,263.25 L424.00,263.36 L424.50,263.46 L425.00,263.56 L425.50,263.66 L426.00,263.76 L426.50,263.86 L427.00,263.95 L427.50,264.04 L428.00,264.13 L428.50,264.22 L429.00,264.31 L429.50,264.40 L430.00,264.48 L430.50,264.56 L431.00,264.64 L431.50,264.72 L432.00,264.80 L432.50,264.88 L433.00,264.95 L433.50,265.02 L434.00,265.10 L434.50,265.17 L435.00,265.24 L435.50,265.30 L436.00,265.37 L436.50,265.44 L437.00,265.50 L437.50,265.57 L438.00,265.63 L438.50,265.69 L439.00,265.75 L439.50,265.81 L440.00,265.87 L440.50,265.92 L441.00,265.98 L441.50,266.03 L442.00,266.09 L442.50,266.14 L443.00,266.19 L443.50,266.24 L444.00,266.29 L444.50,266.34 L445.00,266.39 L445.50,266.44 L446.00,266.49 L446.50,266.53 L447.00,266.58 L447.50,266.62 L448.00,266.67 L448.50,266.71 L449.00,266.75 L449.50,266.79 L450.00,266.83 L450.50,266.87 L451.00,266.91 L451.50,266.95 L452.00,266.99 L452.50,267.03 L453.00,267.07 L453.50,267.10 L454.00,267.14 L454.50,267.17 L455.00,267.21 L455.50,267.24 L456.00,267.28 L456.50,267.31 L457.00,267.34 L457.50,267.37 L458.00,267.41 L458.50,267.44 L459.00,267.47 L459.50,267.50 L460.00,267.53 L460.50,267.56 L461.00,267.59 L461.50,267.61 L462.00,267.64 L462.50,267.67 L463.00,267.70 L463.50,267.72 L464.00,267.75 L464.50,267.78 L465.00,267.80 L465.50,267.83 L466.00,267.85 L466.50,267.88 L467.00,267.90 L467.50,267.92 L468.00,267.95 L468.50,267.97 L469.00,267.99 L469.50,268.02 L470.00,268.04 L470.50,268.06 L471.00,268.08 L471.50,268.10 L472.00,268.12 L472.50,268.15 L473.00,268.17 L473.50,268.19 L474.00,268.21 L474.50,268.23 L475.00,268.24 L475.50,268.26 L476.00,268.28 L476.50,268.30 L477.00,268.32 L477.50,268.34 L478.00,268.36 L478.50,268.37 L479.00,268.39 L479.50,268.41 L480.00,268.42 L480.50,268.44 L481.00,268.46 L481.50,268.47 L482.00,268.49 L482.50,268.51 L483.00,268.52 L483.50,268.54 L484.00,268.55 L484.50,268.57 L485.00,268.58 L485.50,268.60 L486.00,268.61 L486.50,268.63 L487.00,268.64 L487.50,268.65 L488.00,268.67 L488.50,268.68 L489.00,268.69 L489.50,268.71 L490.00,268.72 L490.50,268.73 L491.00,268.75 L491.50,268.76 L492.00,268.77 L492.50,268.78 L493.00,268.80 L493.50,268.81 L494.00,268.82 L494.50,268.83 L495.00,268.84 L495.50,268.86 L496.00,268.87 L496.50,268.88 L497.00,268.89 L497.50,268.90 L498.00,268.91 L498.50,268.92 L499.00,268.93 L499.50,268.94 L500.00,268.95" fill="none" stroke="#a5a5a5" stroke-width="1.5"/>
<path d="M80.00,268.79 L80.50,268.78 L81.00,268.77 L81.50,268.77 L82.00,268.76 L82.50,268.75 L83.00,268.74 L83.50,268.73 L84.00,268.72 L84.50,268.71 L85.00,268.70 L85.50,268.69 L86.00,268.68 L86.50,268.68 L87.00,268.67 L87.50,268.66 L88.00,268.65 L88.50,268.64 L89.00,268.63 L89.50,268.62 L90.00,268.61 L90.50,268.60 L91.00,268.59 L91.50,268.58 L92.00,268.57 L92.50,268.56 L93.00,268.55 L93.50,268.54 L94.00,268.52 L94.50,268.51 L95.00,268.50 L95.50,268.49 L96.00,268.48 L96.50,268.47 L97.00,268.46 L97.50,268.45 L98.00,268.44 L98.50,268.42 L99.00,268.41 L99.50,268.40 L100.00,268.39 L100.50,268.38 L101.00,268.36 L101.50,268.35 L102.00,268.34 L102.50,268.33 L103.00,268.32 L103.50,268.30 L104.00,268.29 L104.50,268.28 L105.00,268.26 L105.50,268.25 L106.00,268.24 L106.50,268.22 L107.00,268.21 L107.50,268.20 L108.00,268.18 L108.50,268.17 L109.00,268.15 L109.50,268.14 L110.00,268.13 L110.50,268.11 L111.00,268.10 L111.50,268.08 L112.00,268.07 L112.50,268.05 L113.00,268.04 L113.50,268.02 L114.00,268.00 L114.50,267.99 L115.00,267.97 L115.50,267.96 L116.00,267.94 L116.50,267.92 L117.00,267.91 L117.50,267.89 L118.00,267.87 L118.50,267.86 L119.00,267.84 L119.50,267.82 L120.00,267.80 L120.50,267.79 L121.00,267.77 L121.50,267.75 L122.00,267.73 L122.50,267.71 L123.00,267.69 L123.50,267.67 L124.00,267.66 L124.50,267.64 L125.00,267.62 L125.50,267.60 L126.00,267.58 L126.50,267.56 L127.00,267.53 L127.50,267.51 L128.00,267.49 L128.50,267.47 L129.00,267.45 L129.50,267.43 L130.00,267.41 L130.50,267.38 L131.00,267.36 L131.50,267.34 L132.00,267.32 L132.50,267.29 L133.00,267.27 L133.50,267.24 L134.00,267.22 L134.50,267.20 L135.00,267.17 L135.50,267.15 L136.00,267.12 L136.50,267.09 L137.00,267.07 L137.50,267.04 L138.00,267.02 L138.50,266.99 L139.00,266.96 L139.50,266.93 L140.00,266.91 L140.50,266.88 L141.00,266.85 L141.50,266.82 L142.00,266.79 L142.50,266.76 L143.00,266.73 L143.50,266.70 L144.00,266.67 L144.50,266.64 L145.00,266.61 L145.50,266.57 L146.00,266.54 L146.50,266.51 L147.00,266.47 L147.50,266.44 L148.00,266.41 L148.50,266.37 L149.00,266.34 L149.50,266.30 L150.00,266.26 L150.50,266.23 L151.00,266.19 L151.50,266.15 L152.00,266.11 L152.50,266.08 L153.00,266.04 L153.50,266.00 L154.00,265.96 L154.50,265.92 L155.00,265.87 L155.50,265.83 L156.00,265.79 L156.50,265.75 L157.00,265.70 L157.50,265.66 L158.00,265.61 L158.50,265.57 L159.00,265.52 L159.50,265.47 L160.00,265.43 L160.50,265.38 L161.00,265.33 L161.50,265.28 L162.00,265.23 L162.50,265.18 L163.00,265.12 L163.50,265.07 L164.00,265.02 L164.50,264.96 L165.00,264.91 L165.50,264.85 L166.00,264.79 L166.50,264.73 L167.00,264.68 L167.50,264.62 L168.00,264.55 L168.50,264.49 L169.00,264.43 L169.50,264.37 L170.00,264.30 L170.50,264.24 L171.00,264.17 L171.50,264.10 L172.00,264.03 L172.50,263.96 L173.00,263.89 L173.50,263.82 L174.00,263.74 L174.50,263.67 L175.00,263.59 L175.50,263.51 L176.00,263.43 L176.50,263.35 L177.00,263.27 L177.50,263.19 L178.00,263.10 L178.50,263.02 L179.00,262.93 L179.50,262.84 L180.00,262.75 L180.50,262.65 L181.00,262.56 L181.50,262.46 L182.00,262.36 L182.50,262.27 L183.00,262.16 L183.50,262.06 L184.00,261.95 L184.50,261.85 L185.00,261.74 L185.50,261.63 L186.00,261.51 L186.50,261.40 L187.00,261.28 L187.50,261.16 L188.00,261.03 L188.50,260.91 L189.00,260.78 L189.50,260.65 L190.00,260.52 L190.50,260.38 L191.00,260.24 L191.50,260.10 L192.00,259.96 L192.50,259.81 L193.00,259.66 L193.50,259.51 L194.00,259.35 L194.50,259.19 L195.00,259.03 L195.50,258.86 L196.00,258.69 L196.50,258.52 L197.00,258.34 L197.50,258.16 L198.00,257.97 L198.50,257.78 L199.00,257.58 L199.50,257.39 L200.00,257.18 L200.50,256.97 L201.00,256.76 L201.50,256.54 L202.00,256.32 L202.50,256.09 L203.00,255.86 L203.50,255.62 L204.00,255.37 L204.50,255.12 L205.00,254.87 L205.50,254.60 L206.00,254.33 L206.50,254.06 L207.00,253.77 L207.50,253.48 L208.00,253.18 L208.50,252.88 L209.00,252.57 L209.50,252.24 L210.00,251.91 L210.50,251.58 L211.00,251.23 L211.50,250.87 L212.00,250.51 L212.50,250.13 L213.00,249.74 L213.50,249.35 L214.00,248.94 L214.50,248.52 L215.00,248.09 L215.50,247.65 L216.00,247.20 L216.50,246.73 L217.00,246.25 L217.50,245.75 L218.00,245.24 L218.50,244.72 L219.00,244.18 L219.50,243.63 L220.00,243.06 L220.50,242.47 L221.00,241.86 L221.50,241.24 L222.00,240.60 L222.50,239.94 L223.00,239.26 L223.50,238.55 L224.00,237.83 L224.50,237.08 L225.00,236.32 L225.50,235.52 L226.00,234.70 L226.50,233.86 L227.00,232.99 L227.50,232.09 L228.00,231.17 L228.50,230.21 L229.00,229.23 L229.50,228.21 L230.00,227.16 L230.50,226.08 L231.00,224.97 L231.50,223.81 L232.00,222.63 L232.50,221.40 L233.00,220.14 L233.50,218.83 L234.00,217.49 L234.50,216.11 L235.00,214.68 L235.50,213.21 L236.00,211.69 L236.50,210.13 L237.00,208.53 L237.50,206.88 L238.00,205.18 L238.50,203.43 L239.00,201.64 L239.50,199.80 L240.00,197.91 L240.50,195.98 L241.00,194.00 L241.50,191.98 L242.00,189.91 L242.50,187.81 L243.00,185.66 L243.50,183.48 L244.00,181.27 L244.50,179.02 L245.00,176.75 L245.50,174.47 L246.00,172.16 L246.50,169.85 L247.00,167.54 L247.50,165.23 L248.00,162.94 L248.50,160.67 L249.00,158.43 L249.50,156.23 L250.00,154.09 L250.50,152.01 L251.00,150.00 L251.50,148.08 L252.00,146.26 L252.50,144.55 L253.00,142.95 L253.50,141.50 L254.00,140.18 L254.50,139.01 L255.00,138.01 L255.50,137.18 L256.00,136.52 L256.50,136.04 L257.00,135.75 L257.50,135.64 L258.00,135.72 L258.50,135.99 L259.00,136.45 L259.50,137.09 L260.00,137.90 L260.50,138.88 L261.00,140.03 L261.50,141.33 L262.00,142.77 L262.50,144.35 L263.00,146.05 L263.50,147.86 L264.00,149.76 L264.50,151.76 L265.00,153.83 L265.50,155.97 L266.00,158.16 L266.50,160.40 L267.00,162.66 L267.50,164.95 L268.00,167.26 L268.50,169.57 L269.00,171.89 L269.50,174.19 L270.00,176.48 L270.50,178.75 L271.00,181.00 L271.50,183.22 L272.00,185.40 L272.50,187.55 L273.00,189.66 L273.50,191.73 L274.00,193.76 L274.50,195.75 L275.00,197.68 L275.50,199.58 L276.00,201.42 L276.50,203.22 L277.00,204.97 L277.50,206.67 L278.00,208.33 L278.50,209.94 L279.00,211.51 L279.50,213.03 L280.00,214.50 L280.50,215.94 L281.00,217.33 L281.50,218.68 L282.00,219.98 L282.50,221.25 L283.00,222.48 L283.50,223.67 L284.00,224.83 L284.50,225.95 L285.00,227.04 L285.50,228.09 L286.00,229.11 L286.50,230.10 L287.00,231.06 L287.50,231.98 L288.00,232.88 L288.50,233.76 L289.00,234.60 L289.50,235.43 L290.00,236.22 L290.50,236.99 L291.00,237.74 L291.50,238.47 L292.00,239.17 L292.50,239.86 L293.00,240.52 L293.50,241.17 L294.00,241.79 L294.50,242.40 L295.00,242.99 L295.50,243.56 L296.00,244.12 L296.50,244.66 L297.00,245.18 L297.50,245.69 L298.00,246.19 L298.50,246.67 L299.00,247.14 L299.50,247.60 L300.00,248.04 L300.50,248.47 L301.00,248.89 L301.50,249.30 L302.00,249.70 L302.50,250.08 L303.00,250.46 L303.50,250.83 L304.00,251.19 L304.50,251.53 L305.00,251.87 L305.50,252.21 L306.00,252.53 L306.50,252.84 L307.00,253.15 L307.50,253.45 L308.00,253.74 L308.50,254.02 L309.00,254.30 L309.50,254.57 L310.00,254.83 L310.50,255.09 L311.00,255.34 L311.50,255.59 L312.00,255.83 L312.50,256.06 L313.00,256.29 L313.50,256.52 L314.00,256.74 L314.50,256.95 L315.00,257.16 L315.50,257.36 L316.00,257.56 L316.50,257.76 L317.00,257.95 L317.50,258.13 L318.00,258.32 L318.50,258.49 L319.00,258.67 L319.50,258.84 L320.00,259.01 L320.50,259.17 L321.00,259.33 L321.50,259.49 L322.00,259.64 L322.50,259.79 L323.00,259.94 L323.50,260.09 L324.00,260.23 L324.50,260.37 L325.00,260.50 L325.50,260.64 L326.00,260.77 L326.50,260.89 L327.00,261.02 L327.50,261.14 L328.00,261.26 L328.50,261.38 L329.00,261.50 L329.50,261.61 L330.00,261.72 L330.50,261.83 L331.00,261.94 L331.50,262.05 L332.00,262.15 L332.50,262.25 L333.00,262.35 L333.50,262.45 L334.00,262.55 L334.50,262.64 L335.00,262.74 L335.50,262.83 L336.00,262.92 L336.50,263.00 L337.00,263.09 L337.50,263.18 L338.00,263.26 L338.50,263.34 L339.00,263.42 L339.50,263.50 L340.00,263.58 L340.50,263.66 L341.00,263.73 L341.50,263.81 L342.00,263.88 L342.50,263.95 L343.00,264.02 L343.50,264.09 L344.00,264.16 L344.50,264.23 L345.00,264.29 L345.50,264.36 L346.00,264.42 L346.50,264.49 L347.00,264.55 L347.50,264.61 L348.00,264.67 L348.50,264.73 L349.00,264.79 L349.50,264.84 L350.00,264.90 L350.50,264.96 L351.00,265.01 L351.50,265.06 L352.00,265.12 L352.50,265.17 L353.00,265.22 L353.50,265.27 L354.00,265.32 L354.50,265.37 L355.00,265.42 L355.50,265.47 L356.00,265.52 L356.50,265.56 L357.00,265.61 L357.50,265.65 L358.00,265.70 L358.50,265.74 L359.00,265.78 L359.50,265.83 L360.00,265.87 L360.50,265.91 L361.00,265.95 L361.50,265.99 L362.00,266.03 L362.50,266.07 L363.00,266.11 L363.50,266.15 L364.00,266.19 L364.50,266.22 L365.00,266.26 L365.50,266.30 L366.00,266.33 L366.50,266.37 L367.00,266.40 L367.50,266.44 L368.00,266.47 L368.50,266.50 L369.00,266.54 L369.50,266.57 L370.00,266.60 L370.50,266.63 L371.00,266.66 L371.50,266.70 L372.00,266.73 L372.50,266.76 L373.00,266.79 L373.50,266.82 L374.00,266.84 L374.50,266.87 L375.00,266.90 L375.50,266.93 L376.00,266.96 L376.50,266.99 L377.00,267.01 L377.50,267.04 L378.00,267.07 L378.50,267.09 L379.00,267.12 L379.50,267.14 L380.00,267.17 L380.50,267.19 L381.00,267.22 L381.50,267.24 L382.00,267.27 L382.50,267.29 L383.00,267.31 L383.50,267.34 L384.00,267.36 L384.50,267.38 L385.00,267.40 L385.50,267.43 L386.00,267.45 L386.50,267.47 L387.00,267.49 L387.50,267.51 L388.00,267.53 L388.50,267.55 L389.00,267.57 L389.50,267.59 L390.00,267.61 L390.50,267.63 L391.00,267.65 L391.50,267.67 L392.00,267.69 L392.50,267.71 L393.00,267.73 L393.50,267.75 L394.00,267.77 L394.50,267.78 L395.00,267.80 L395.50,267.82 L396.00,267.84 L396.50,267.85 L397.00,267.87 L397.50,267.89 L398.00,267.91 L398.50,267.92 L399.00,267.94 L399.50,267.96 L400.00,267.97 L400.50,267.99 L401.00,268.00 L401.50,268.02 L402.00,268.03 L402.50,268.05 L403.00,268.06 L403.50,268.08 L404.00,268.09 L404.50,268.11 L405.00,268.12 L405.50,268.14 L406.00,268.15 L406.50,268.17 L407.00,268.18 L407.50,268.19 L408.00,268.21 L408.50,268.22 L409.00,268.24 L409.50,268.25 L410.00,268.26 L410.50,268.28 L411.00,268.29 L411.50,268.30 L412.00,268.31 L412.50,268.33 L413.00,268.34 L413.50,268.35 L414.00,268.36 L414.50,268.38 L415.00,268.39 L415.50,268.40 L416.00,268.41 L416.50,268.42 L417.00,268.43 L417.50,268.45 L418.00,268.46 L418.50,268.47 L419.00,268.48 L419.50,268.49 L420.00,268.50 L420.50,268.51 L421.00,268.52 L421.50,268.53 L422.00,268.54 L422.50,268.56 L423.00,268.57 L423.50,268.58 L424.00,268.59 L424.50,268.60 L425.00,268.61 L425.50,268.62 L426.00,268.63 L426.50,268.64 L427.00,268.65 L427.50,268.66 L428.00,268.66 L428.50,268.67 L429.00,268.68 L429.50,268.69 L430.00,268.70 L430.50,268.71 L431.00,268.72 L431.50,268.73 L432.00,268.74 L432.50,268.75 L433.00,268.76 L433.50,268.76 L434.00,268.77 L434.50,268.78 L435.00,268.79 L435.50,268.80 L436.00,268.81 L436.50,268.81 L437.00,268.82 L437.50,268.83 L438.00,268.84 L438.50,268.85 L439.00,268.85 L439.50,268.86 L440.00,268.87 L440.50,268.88 L441.00,268.89 L441.50,268.89 L442.00,268.90 L442.50,268.91 L443.00,268.92 L443.50,268.92 L444.00,268.93 L444.50,268.94 L445.00,268.95 L445.50,268.95 L446.00,268.96 L446.50,268.97 L447.00,268.97 L447.50,268.98 L448.00,268.99 L448.50,268.99 L449.00,269.00 L449.50,269.01 L450.00,269.01 L450.50,269.02 L451.00,269.03 L451.50,269.03 L452.00,269.04 L452.50,269.05 L453.00,269.05 L453.50,269.06 L454.00,269.07 L454.50,269.07 L455.00,269.08 L455.50,269.08 L456.00,269.09 L456.50,269.10 L457.00,269.10 L457.50,269.11 L458.00,269.11 L458.50,269.12 L459.00,269.13 L459.50,269.13 L460.00,269.14 L460.50,269.14 L461.00,269.15 L461.50,269.15 L462.00,269.16 L462.50,269.16 L463.00,269.17 L463.50,269.18 L464.00,269.18 L464.50,269.19 L465.00,269.19 L465.50,269.20 L466.00,269.20 L466.50,269.21 L467.00,269.21 L467.50,269.22 L468.00,269.22 L468.50,269.23 L469.00,269.23 L469.50,269.24 L470.00,269.24 L470.50,269.25 L471.00,269.25 L471.50,269.26 L472.00,269.26 L472.50,269.27 L473.00,269.27 L473.50,269.28 L474.00,269.28 L474.50,269.29 L475.00,269.29 L475.50,269.30 L476.00,269.30 L476.50,269.30 L477.00,269.31 L477.50,269.31 L478.00,269.32 L478.50,269.32 L479.00,269.33 L479.50,269.33 L480.00,269.34 L480.50,269.34 L481.00,269.34 L481.50,269.35 L482.00,269.35 L482.50,269.36 L483.00,269.36 L483.50,269.36 L484.00,269.37 L484.50,269.37 L485.00,269.38 L485.50,269.38 L486.00,269.38 L486.50,269.39 L487.00,269.39 L487.50,269.40 L488.00,269.40 L488.50,269.40 L489.00,269.41 L489.50,269.41 L490.00,269.42 L490.50,269.42 L491.00,269.42 L491.50,269.43 L492.00,269.43 L492.50,269.43 L493.00,269.44 L493.50,269.44 L494.00,269.45 L494.50,269.45 L495.00,269.45 L495.50,269.46 L496.00,269.46 L496.50,269.46 L497.00,269.47 L497.50,269.47 L498.00,269.47 L498.50,269.48 L499.00,269.48 L499.50,269.48 L500.00,269.49" fill="none" stroke="#f2a65a" stroke-width="1.6"/>
<path d="M80.00,270.08 L80.50,270.07 L81.00,270.07 L81.50,270.07 L82.00,270.07 L82.50,270.07 L83.00,270.07 L83.50,270.07 L84.00,270.07 L84.50,270.06 L85.00,270.06 L85.50,270.06 L86.00,270.06 L86.50,270.06 L87.00,270.06 L87.50,270.06 L88.00,270.06 L88.50,270.05 L89.00,270.05 L89.50,270.05 L90.00,270.05 L90.50,270.05 L91.00,270.05 L91.50,270.05 L92.00,270.04 L92.50,270.04 L93.00,270.04 L93.50,270.04 L94.00,270.04 L94.50,270.04 L95.00,270.04 L95.50,270.03 L96.00,270.03 L96.50,270.03 L97.00,270.03 L97.50,270.03 L98.00,270.03 L98.50,270.03 L99.00,270.02 L99.50,270.02 L100.00,270.02 L100.50,270.02 L101.00,270.02 L101.50,270.02 L102.00,270.01 L102.50,270.01 L103.00,270.01 L103.50,270.01 L104.00,270.01 L104.50,270.01 L105.00,270.00 L105.50,270.00 L106.00,270.00 L106.50,270.00 L107.00,270.00 L107.50,269.99 L108.00,269.99 L108.50,269.99 L109.00,269.99 L109.50,269.99 L110.00,269.99 L110.50,269.98 L111.00,269.98 L111.50,269.98 L112.00,269.98 L112.50,269.98 L113.00,269.97 L113.50,269.97 L114.00,269.97 L114.50,269.97 L115.00,269.97 L115.50,269.96 L116.00,269.96 L116.50,269.96 L117.00,269.96 L117.50,269.95 L118.00,269.95 L118.50,269.95 L119.00,269.95 L119.50,269.95 L120.00,269.94 L120.50,269.94 L121.00,269.94 L121.50,269.94 L122.00,269.93 L122.50,269.93 L123.00,269.93 L123.50,269.93 L124.00,269.92 L124.50,269.92 L125.00,269.92 L125.50,269.92 L126.00,269.91 L126.50,269.91 L127.00,269.91 L127.50,269.91 L128.00,269.90 L128.50,269.90 L129.00,269.90 L129.50,269.89 L130.00,269.89 L130.50,269.89 L131.00,269.89 L131.50,269.88 L132.00,269.88 L132.50,269.88 L133.00,269.87 L133.50,269.87 L134.00,269.87 L134.50,269.86 L135.00,269.86 L135.50,269.86 L136.00,269.85 L136.50,269.85 L137.00,269.85 L137.50,269.84 L138.00,269.84 L138.50,269.84 L139.00,269.83 L139.50,269.83 L140.00,269.83 L140.50,269.82 L141.00,269.82 L141.50,269.82 L142.00,269.81 L142.50,269.81 L143.00,269.81 L143.50,269.80 L144.00,269.80 L144.50,269.79 L145.00,269.79 L145.50,269.79 L146.00,269.78 L146.50,269.78 L147.00,269.77 L147.50,269.77 L148.00,269.76 L148.50,269.76 L149.00,269.76 L149.50,269.75 L150.00,269.75 L150.50,269.74 L151.00,269.74 L151.50,269.73 L152.00,269.73 L152.50,269.72 L153.00,269.72 L153.50,269.71 L154.00,269.71 L154.50,269.70 L155.00,269.70 L155.50,269.69 L156.00,269.69 L156.50,269.68 L157.00,269.68 L157.50,269.67 L158.00,269.67 L158.50,269.66 L159.00,269.66 L159.50,269.65 L160.00,269.64 L160.50,269.64 L161.00,269.63 L161.50,269.63 L162.00,269.62 L162.50,269.61 L163.00,269.61 L163.50,269.60 L164.00,269.60 L164.50,269.59 L165.00,269.58 L165.50,269.58 L166.00,269.57 L166.50,269.56 L167.00,269.56 L167.50,269.55 L168.00,269.54 L168.50,269.53 L169.00,269.53 L169.50,269.52 L170.00,269.51 L170.50,269.50 L171.00,269.50 L171.50,269.49 L172.00,269.48 L172.50,269.47 L173.00,269.46 L173.50,269.45 L174.00,269.45 L174.50,269.44 L175.00,269.43 L175.50,269.42 L176.00,269.41 L176.50,269.40 L177.00,269.39 L177.50,269.38 L178.00,269.37 L178.50,269.36 L179.00,269.35 L179.50,269.34 L180.00,269.33 L180.50,269.32 L181.00,269.31 L181.50,269.30 L182.00,269.29 L182.50,269.28 L183.00,269.27 L183.50,269.26 L184.00,269.24 L184.50,269.23 L185.00,269.22 L185.50,269.21 L186.00,269.19 L186.50,269.18 L187.00,269.17 L187.50,269.16 L188.00,269.14 L188.50,269.13 L189.00,269.11 L189.50,269.10 L190.00,269.09 L190.50,269.07 L191.00,269.06 L191.50,269.04 L192.00,269.03 L192.50,269.01 L193.00,268.99 L193.50,268.98 L194.00,268.96 L194.50,268.94 L195.00,268.93 L195.50,268.91 L196.00,268.89 L196.50,268.87 L197.00,268.85 L197.50,268.83 L198.00,268.81 L198.50,268.79 L199.00,268.77 L199.50,268.75 L200.00,268.73 L200.50,268.71 L201.00,268.69 L201.50,268.67 L202.00,268.64 L202.50,268.62 L203.00,268.60 L203.50,268.57 L204.00,268.55 L204.50,268.52 L205.00,268.49 L205.50,268.47 L206.00,268.44 L206.50,268.41 L207.00,268.38 L207.50,268.35 L208.00,268.32 L208.50,268.29 L209.00,268.26 L209.50,268.23 L210.00,268.20 L210.50,268.17 L211.00,268.13 L211.50,268.10 L212.00,268.06 L212.50,268.02 L213.00,267.99 L213.50,267.95 L214.00,267.91 L214.50,267.87 L215.00,267.82 L215.50,267.78 L216.00,267.74 L216.50,267.69 L217.00,267.65 L217.50,267.60 L218.00,267.55 L218.50,267.50 L219.00,267.45 L219.50,267.40 L220.00,267.34 L220.50,267.29 L221.00,267.23 L221.50,267.17 L222.00,267.11 L222.50,267.05 L223.00,266.98 L223.50,266.92 L224.00,266.85 L224.50,266.78 L225.00,266.71 L225.50,266.63 L226.00,266.56 L226.50,266.48 L227.00,266.39 L227.50,266.31 L228.00,266.22 L228.50,266.13 L229.00,266.04 L229.50,265.94 L230.00,265.84 L230.50,265.74 L231.00,265.64 L231.50,265.53 L232.00,265.41 L232.50,265.29 L233.00,265.17 L233.50,265.05 L234.00,264.92 L234.50,264.78 L235.00,264.64 L235.50,264.49 L236.00,264.34 L236.50,264.18 L237.00,264.02 L237.50,263.85 L238.00,263.67 L238.50,263.49 L239.00,263.29 L239.50,263.09 L240.00,262.88 L240.50,262.67 L241.00,262.44 L241.50,262.20 L242.00,261.95 L242.50,261.69 L243.00,261.42 L243.50,261.13 L244.00,260.83 L244.50,260.52 L245.00,260.19 L245.50,259.84 L246.00,259.47 L246.50,259.09 L247.00,258.68 L247.50,258.25 L248.00,257.80 L248.50,257.32 L249.00,256.81 L249.50,256.27 L250.00,255.70 L250.50,255.09 L251.00,254.44 L251.50,253.76 L252.00,253.02 L252.50,252.24 L253.00,251.40 L253.50,250.51 L254.00,249.56 L254.50,248.54 L255.00,247.45 L255.50,246.29 L256.00,245.04 L256.50,243.70 L257.00,242.28 L257.50,240.75 L258.00,239.12 L258.50,237.37 L259.00,235.51 L259.50,233.52 L260.00,231.40 L260.50,229.14 L261.00,226.74 L261.50,224.19 L262.00,221.50 L262.50,218.64 L263.00,215.64 L263.50,212.48 L264.00,209.17 L264.50,205.72 L265.00,202.14 L265.50,198.45 L266.00,194.68 L266.50,190.86 L267.00,187.02 L267.50,183.21 L268.00,179.50 L268.50,175.94 L269.00,172.61 L269.50,169.58 L270.00,166.92 L270.50,164.72 L271.00,163.02 L271.50,161.90 L272.00,161.38 L272.50,161.48 L273.00,162.19 L273.50,163.51 L274.00,165.37 L274.50,167.73 L275.00,170.51 L275.50,173.65 L276.00,177.06 L276.50,180.68 L277.00,184.42 L277.50,188.25 L278.00,192.08 L278.50,195.90 L279.00,199.64 L279.50,203.30 L280.00,206.84 L280.50,210.24 L281.00,213.50 L281.50,216.61 L282.00,219.57 L282.50,222.38 L283.00,225.03 L283.50,227.53 L284.00,229.88 L284.50,232.09 L285.00,234.17 L285.50,236.12 L286.00,237.94 L286.50,239.65 L287.00,241.25 L287.50,242.74 L288.00,244.14 L288.50,245.45 L289.00,246.67 L289.50,247.81 L290.00,248.87 L290.50,249.87 L291.00,250.80 L291.50,251.68 L292.00,252.50 L292.50,253.26 L293.00,253.98 L293.50,254.66 L294.00,255.29 L294.50,255.89 L295.00,256.45 L295.50,256.98 L296.00,257.48 L296.50,257.95 L297.00,258.39 L297.50,258.81 L298.00,259.21 L298.50,259.59 L299.00,259.95 L299.50,260.29 L300.00,260.62 L300.50,260.93 L301.00,261.22 L301.50,261.51 L302.00,261.78 L302.50,262.03 L303.00,262.28 L303.50,262.51 L304.00,262.74 L304.50,262.95 L305.00,263.16 L305.50,263.36 L306.00,263.55 L306.50,263.73 L307.00,263.90 L307.50,264.07 L308.00,264.23 L308.50,264.39 L309.00,264.54 L309.50,264.68 L310.00,264.82 L310.50,264.96 L311.00,265.09 L311.50,265.21 L312.00,265.33 L312.50,265.45 L313.00,265.56 L313.50,265.67 L314.00,265.78 L314.50,265.88 L315.00,265.97 L315.50,266.07 L316.00,266.16 L316.50,266.25 L317.00,266.34 L317.50,266.42 L318.00,266.50 L318.50,266.58 L319.00,266.66 L319.50,266.73 L320.00,266.80 L320.50,266.87 L321.00,266.94 L321.50,267.00 L322.00,267.07 L322.50,267.13 L323.00,267.19 L323.50,267.25 L324.00,267.30 L324.50,267.36 L325.00,267.41 L325.50,267.47 L326.00,267.52 L326.50,267.57 L327.00,267.61 L327.50,267.66 L328.00,267.71 L328.50,267.75 L329.00,267.80 L329.50,267.84 L330.00,267.88 L330.50,267.92 L331.00,267.96 L331.50,268.00 L332.00,268.03 L332.50,268.07 L333.00,268.11 L333.50,268.14 L334.00,268.18 L334.50,268.21 L335.00,268.24 L335.50,268.27 L336.00,268.30 L336.50,268.33 L337.00,268.36 L337.50,268.39 L338.00,268.42 L338.50,268.45 L339.00,268.48 L339.50,268.50 L340.00,268.53 L340.50,268.55 L341.00,268.58 L341.50,268.60 L342.00,268.63 L342.50,268.65 L343.00,268.67 L343.50,268.70 L344.00,268.72 L344.50,268.74 L345.00,268.76 L345.50,268.78 L346.00,268.80 L346.50,268.82 L347.00,268.84 L347.50,268.86 L348.00,268.88 L348.50,268.90 L349.00,268.91 L349.50,268.93 L350.00,268.95 L350.50,268.97 L351.00,268.98 L351.50,269.00 L352.00,269.01 L352.50,269.03 L353.00,269.05 L353.50,269.06 L354.00,269.08 L354.50,269.09 L355.00,269.10 L355.50,269.12 L356.00,269.13 L356.50,269.15 L357.00,269.16 L357.50,269.17 L358.00,269.19 L358.50,269.20 L359.00,269.21 L359.50,269.22 L360.00,269.24 L360.50,269.25 L361.00,269.26 L361.50,269.27 L362.00,269.28 L362.50,269.29 L363.00,269.30 L363.50,269.31 L364.00,269.33 L364.50,269.34 L365.00,269.35 L365.50,269.36 L366.00,269.37 L366.50,269.38 L367.00,269.39 L367.50,269.40 L368.00,269.40 L368.50,269.41 L369.00,269.42 L369.50,269.43 L370.00,269.44 L370.50,269.45 L371.00,269.46 L371.50,269.47 L372.00,269.47 L372.50,269.48 L373.00,269.49 L373.50,269.50 L374.00,269.51 L374.50,269.51 L375.00,269.52 L375.50,269.53 L376.00,269.54 L376.50,269.54 L377.00,269.55 L377.50,269.56 L378.00,269.56 L378.50,269.57 L379.00,269.58 L379.50,269.58 L380.00,269.59 L380.50,269.60 L381.00,269.60 L381.50,269.61 L382.00,269.62 L382.50,269.62 L383.00,269.63 L383.50,269.63 L384.00,269.64 L384.50,269.65 L385.00,269.65 L385.50,269.66 L386.00,269.66 L386.50,269.67 L387.00,269.67 L387.50,269.68 L388.00,269.69 L388.50,269.69 L389.00,269.70 L389.50,269.70 L390.00,269.71 L390.50,269.71 L391.00,269.72 L391.50,269.72 L392.00,269.73 L392.50,269.73 L393.00,269.73 L393.50,269.74 L394.00,269.74 L394.50,269.75 L395.00,269.75 L395.50,269.76 L396.00,269.76 L396.50,269.77 L397.00,269.77 L397.50,269.77 L398.00,269.78 L398.50,269.78 L399.00,269.79 L399.50,269.79 L400.00,269.79 L400.50,269.80 L401.00,269.80 L401.50,269.81 L402.00,269.81 L402.50,269.81 L403.00,269.82 L403.50,269.82 L404.00,269.82 L404.50,269.83 L405.00,269.83 L405.50,269.84 L406.00,269.84 L406.50,269.84 L407.00,269.85 L407.50,269.85 L408.00,269.85 L408.50,269.86 L409.00,269.86 L409.50,269.86 L410.00,269.87 L410.50,269.87 L411.00,269.87 L411.50,269.87 L412.00,269.88 L412.50,269.88 L413.00,269.88 L413.50,269.89 L414.00,269.89 L414.50,269.89 L415.00,269.89 L415.50,269.90 L416.00,269.90 L416.50,269.90 L417.00,269.91 L417.50,269.91 L418.00,269.91 L418.50,269.91 L419.00,269.92 L419.50,269.92 L420.00,269.92 L420.50,269.92 L421.00,269.93 L421.50,269.93 L422.00,269.93 L422.50,269.93 L423.00,269.94 L423.50,269.94 L424.00,269.94 L424.50,269.94 L425.00,269.95 L425.50,269.95 L426.00,269.95 L426.50,269.95 L427.00,269.95 L427.50,269.96 L428.00,269.96 L428.50,269.96 L429.00,269.96 L429.50,269.97 L430.00,269.97 L430.50,269.97 L431.00,269.97 L431.50,269.97 L432.00,269.98 L432.50,269.98 L433.00,269.98 L433.50,269.98 L434.00,269.98 L434.50,269.99 L435.00,269.99 L435.50,269.99 L436.00,269.99 L436.50,269.99 L437.00,270.00 L437.50,270.00 L438.00,270.00 L438.50,270.00 L439.00,270.00 L439.50,270.00 L440.00,270.01 L440.50,270.01 L441.00,270.01 L441.50,270.01 L442.00,270.01 L442.50,270.01 L443.00,270.02 L443.50,270.02 L444.00,270.02 L444.50,270.02 L445.00,270.02 L445.50,270.02 L446.00,270.03 L446.50,270.03 L447.00,270.03 L447.50,270.03 L448.00,270.03 L448.50,270.03 L449.00,270.04 L449.50,270.04 L450.00,270.04 L450.50,270.04 L451.00,270.04 L451.50,270.04 L452.00,270.04 L452.50,270.05 L453.00,270.05 L453.50,270.05 L454.00,270.05 L454.50,270.05 L455.00,270.05 L455.50,270.05 L456.00,270.06 L456.50,270.06 L457.00,270.06 L457.50,270.06 L458.00,270.06 L458.50,270.06 L459.00,270.06 L459.50,270.06 L460.00,270.07 L460.50,270.07 L461.00,270.07 L461.50,270.07 L462.00,270.07 L462.50,270.07 L463.00,270.07 L463.50,270.07 L464.00,270.07 L464.50,270.08 L465.00,270.08 L465.50,270.08 L466.00,270.08 L466.50,270.08 L467.00,270.08 L467.50,270.08 L468.00,270.08 L468.50,270.09 L469.00,270.09 L469.50,270.09 L470.00,270.09 L470.50,270.09 L471.00,270.09 L471.50,270.09 L472.00,270.09 L472.50,270.09 L473.00,270.09 L473.50,270.10 L474.00,270.10 L474.50,270.10 L475.00,270.10 L475.50,270.10 L476.00,270.10 L476.50,270.10 L477.00,270.10 L477.50,270.10 L478.00,270.10 L478.50,270.11 L479.00,270.11 L479.50,270.11 L480.00,270.11 L480.50,270.11 L481.00,270.11 L481.50,270.11 L482.00,270.11 L482.50,270.11 L483.00,270.11 L483.50,270.11 L484.00,270.12 L484.50,270.12 L485.00,270.12 L485.50,270.12 L486.00,270.12 L486.50,270.12 L487.00,270.12 L487.50,270.12 L488.00,270.12 L488.50,270.12 L489.00,270.12 L489.50,270.12 L490.00,270.13 L490.50,270.13 L491.00,270.13 L491.50,270.13 L492.00,270.13 L492.50,270.13 L493.00,270.13 L493.50,270.13 L494.00,270.13 L494.50,270.13 L495.00,270.13 L495.50,270.13 L496.00,270.13 L496.50,270.14 L497.00,270.14 L497.50,270.14 L498.00,270.14 L498.50,270.14 L499.00,270.14 L499.50,270.14 L500.00,270.14" fill="none" stroke="#3629d0" stroke-width="2.7"/>
<path d="M80.00,270.17 L80.50,270.17 L81.00,270.17 L81.50,270.17 L82.00,270.17 L82.50,270.16 L83.00,270.16 L83.50,270.16 L84.00,270.16 L84.50,270.16 L85.00,270.16 L85.50,270.16 L86.00,270.16 L86.50,270.16 L87.00,270.16 L87.50,270.16 L88.00,270.16 L88.50,270.16 L89.00,270.16 L89.50,270.16 L90.00,270.16 L90.50,270.16 L91.00,270.16 L91.50,270.16 L92.00,270.16 L92.50,270.16 L93.00,270.16 L93.50,270.16 L94.00,270.16 L94.50,270.15 L95.00,270.15 L95.50,270.15 L96.00,270.15 L96.50,270.15 L97.00,270.15 L97.50,270.15 L98.00,270.15 L98.50,270.15 L99.00,270.15 L99.50,270.15 L100.00,270.15 L100.50,270.15 L101.00,270.15 L101.50,270.15 L102.00,270.15 L102.50,270.15 L103.00,270.15 L103.50,270.15 L104.00,270.15 L104.50,270.15 L105.00,270.14 L105.50,270.14 L106.00,270.14 L106.50,270.14 L107.00,270.14 L107.50,270.14 L108.00,270.14 L108.50,270.14 L109.00,270.14 L109.50,270.14 L110.00,270.14 L110.50,270.14 L111.00,270.14 L111.50,270.14 L112.00,270.14 L112.50,270.14 L113.00,270.14 L113.50,270.14 L114.00,270.14 L114.50,270.14 L115.00,270.13 L115.50,270.13 L116.00,270.13 L116.50,270.13 L117.00,270.13 L117.50,270.13 L118.00,270.13 L118.50,270.13 L119.00,270.13 L119.50,270.13 L120.00,270.13 L120.50,270.13 L121.00,270.13 L121.50,270.13 L122.00,270.13 L122.50,270.13 L123.00,270.13 L123.50,270.13 L124.00,270.12 L124.50,270.12 L125.00,270.12 L125.50,270.12 L126.00,270.12 L126.50,270.12 L127.00,270.12 L127.50,270.12 L128.00,270.12 L128.50,270.12 L129.00,270.12 L129.50,270.12 L130.00,270.12 L130.50,270.12 L131.00,270.12 L131.50,270.12 L132.00,270.11 L132.50,270.11 L133.00,270.11 L133.50,270.11 L134.00,270.11 L134.50,270.11 L135.00,270.11 L135.50,270.11 L136.00,270.11 L136.50,270.11 L137.00,270.11 L137.50,270.11 L138.00,270.11 L138.50,270.11 L139.00,270.11 L139.50,270.10 L140.00,270.10 L140.50,270.10 L141.00,270.10 L141.50,270.10 L142.00,270.10 L142.50,270.10 L143.00,270.10 L143.50,270.10 L144.00,270.10 L144.50,270.10 L145.00,270.10 L145.50,270.10 L146.00,270.10 L146.50,270.09 L147.00,270.09 L147.50,270.09 L148.00,270.09 L148.50,270.09 L149.00,270.09 L149.50,270.09 L150.00,270.09 L150.50,270.09 L151.00,270.09 L151.50,270.09 L152.00,270.09 L152.50,270.09 L153.00,270.08 L153.50,270.08 L154.00,270.08 L154.50,270.08 L155.00,270.08 L155.50,270.08 L156.00,270.08 L156.50,270.08 L157.00,270.08 L157.50,270.08 L158.00,270.08 L158.50,270.08 L159.00,270.07 L159.50,270.07 L160.00,270.07 L160.50,270.07 L161.00,270.07 L161.50,270.07 L162.00,270.07 L162.50,270.07 L163.00,270.07 L163.50,270.07 L164.00,270.07 L164.50,270.06 L165.00,270.06 L165.50,270.06 L166.00,270.06 L166.50,270.06 L167.00,270.06 L167.50,270.06 L168.00,270.06 L168.50,270.06 L169.00,270.06 L169.50,270.06 L170.00,270.05 L170.50,270.05 L171.00,270.05 L171.50,270.05 L172.00,270.05 L172.50,270.05 L173.00,270.05 L173.50,270.05 L174.00,270.05 L174.50,270.05 L175.00,270.04 L175.50,270.04 L176.00,270.04 L176.50,270.04 L177.00,270.04 L177.50,270.04 L178.00,270.04 L178.50,270.04 L179.00,270.04 L179.50,270.03 L180.00,270.03 L180.50,270.03 L181.00,270.03 L181.50,270.03 L182.00,270.03 L182.50,270.03 L183.00,270.03 L183.50,270.03 L184.00,270.02 L184.50,270.02 L185.00,270.02 L185.50,270.02 L186.00,270.02 L186.50,270.02 L187.00,270.02 L187.50,270.02 L188.00,270.01 L188.50,270.01 L189.00,270.01 L189.50,270.01 L190.00,270.01 L190.50,270.01 L191.00,270.01 L191.50,270.01 L192.00,270.00 L192.50,270.00 L193.00,270.00 L193.50,270.00 L194.00,270.00 L194.50,270.00 L195.00,270.00 L195.50,270.00 L196.00,269.99 L196.50,269.99 L197.00,269.99 L197.50,269.99 L198.00,269.99 L198.50,269.99 L199.00,269.99 L199.50,269.98 L200.00,269.98 L200.50,269.98 L201.00,269.98 L201.50,269.98 L202.00,269.98 L202.50,269.98 L203.00,269.97 L203.50,269.97 L204.00,269.97 L204.50,269.97 L205.00,269.97 L205.50,269.97 L206.00,269.97 L206.50,269.96 L207.00,269.96 L207.50,269.96 L208.00,269.96 L208.50,269.96 L209.00,269.96 L209.50,269.95 L210.00,269.95 L210.50,269.95 L211.00,269.95 L211.50,269.95 L212.00,269.95 L212.50,269.94 L213.00,269.94 L213.50,269.94 L214.00,269.94 L214.50,269.94 L215.00,269.94 L215.50,269.93 L216.00,269.93 L216.50,269.93 L217.00,269.93 L217.50,269.93 L218.00,269.92 L218.50,269.92 L219.00,269.92 L219.50,269.92 L220.00,269.92 L220.50,269.92 L221.00,269.91 L221.50,269.91 L222.00,269.91 L222.50,269.91 L223.00,269.91 L223.50,269.90 L224.00,269.90 L224.50,269.90 L225.00,269.90 L225.50,269.90 L226.00,269.89 L226.50,269.89 L227.00,269.89 L227.50,269.89 L228.00,269.88 L228.50,269.88 L229.00,269.88 L229.50,269.88 L230.00,269.88 L230.50,269.87 L231.00,269.87 L231.50,269.87 L232.00,269.87 L232.50,269.86 L233.00,269.86 L233.50,269.86 L234.00,269.86 L234.50,269.86 L235.00,269.85 L235.50,269.85 L236.00,269.85 L236.50,269.85 L237.00,269.84 L237.50,269.84 L238.00,269.84 L238.50,269.84 L239.00,269.83 L239.50,269.83 L240.00,269.83 L240.50,269.83 L241.00,269.82 L241.50,269.82 L242.00,269.82 L242.50,269.81 L243.00,269.81 L243.50,269.81 L244.00,269.81 L244.50,269.80 L245.00,269.80 L245.50,269.80 L246.00,269.79 L246.50,269.79 L247.00,269.79 L247.50,269.79 L248.00,269.78 L248.50,269.78 L249.00,269.78 L249.50,269.77 L250.00,269.77 L250.50,269.77 L251.00,269.76 L251.50,269.76 L252.00,269.76 L252.50,269.76 L253.00,269.75 L253.50,269.75 L254.00,269.75 L254.50,269.74 L255.00,269.74 L255.50,269.74 L256.00,269.73 L256.50,269.73 L257.00,269.72 L257.50,269.72 L258.00,269.72 L258.50,269.71 L259.00,269.71 L259.50,269.71 L260.00,269.70 L260.50,269.70 L261.00,269.70 L261.50,269.69 L262.00,269.69 L262.50,269.68 L263.00,269.68 L263.50,269.68 L264.00,269.67 L264.50,269.67 L265.00,269.66 L265.50,269.66 L266.00,269.66 L266.50,269.65 L267.00,269.65 L267.50,269.64 L268.00,269.64 L268.50,269.64 L269.00,269.63 L269.50,269.63 L270.00,269.62 L270.50,269.62 L271.00,269.61 L271.50,269.61 L272.00,269.60 L272.50,269.60 L273.00,269.59 L273.50,269.59 L274.00,269.58 L274.50,269.58 L275.00,269.57 L275.50,269.57 L276.00,269.56 L276.50,269.56 L277.00,269.55 L277.50,269.55 L278.00,269.54 L278.50,269.54 L279.00,269.53 L279.50,269.53 L280.00,269.52 L280.50,269.52 L281.00,269.51 L281.50,269.51 L282.00,269.50 L282.50,269.49 L283.00,269.49 L283.50,269.48 L284.00,269.48 L284.50,269.47 L285.00,269.46 L285.50,269.46 L286.00,269.45 L286.50,269.45 L287.00,269.44 L287.50,269.43 L288.00,269.43 L288.50,269.42 L289.00,269.41 L289.50,269.41 L290.00,269.40 L290.50,269.39 L291.00,269.39 L291.50,269.38 L292.00,269.37 L292.50,269.36 L293.00,269.36 L293.50,269.35 L294.00,269.34 L294.50,269.33 L295.00,269.33 L295.50,269.32 L296.00,269.31 L296.50,269.30 L297.00,269.30 L297.50,269.29 L298.00,269.28 L298.50,269.27 L299.00,269.26 L299.50,269.25 L300.00,269.25 L300.50,269.24 L301.00,269.23 L301.50,269.22 L302.00,269.21 L302.50,269.20 L303.00,269.19 L303.50,269.18 L304.00,269.17 L304.50,269.16 L305.00,269.15 L305.50,269.14 L306.00,269.13 L306.50,269.12 L307.00,269.11 L307.50,269.10 L308.00,269.09 L308.50,269.08 L309.00,269.07 L309.50,269.06 L310.00,269.05 L310.50,269.04 L311.00,269.02 L311.50,269.01 L312.00,269.00 L312.50,268.99 L313.00,268.98 L313.50,268.96 L314.00,268.95 L314.50,268.94 L315.00,268.93 L315.50,268.91 L316.00,268.90 L316.50,268.89 L317.00,268.87 L317.50,268.86 L318.00,268.85 L318.50,268.83 L319.00,268.82 L319.50,268.80 L320.00,268.79 L320.50,268.77 L321.00,268.76 L321.50,268.74 L322.00,268.73 L322.50,268.71 L323.00,268.70 L323.50,268.68 L324.00,268.66 L324.50,268.65 L325.00,268.63 L325.50,268.61 L326.00,268.59 L326.50,268.58 L327.00,268.56 L327.50,268.54 L328.00,268.52 L328.50,268.50 L329.00,268.48 L329.50,268.46 L330.00,268.44 L330.50,268.42 L331.00,268.40 L331.50,268.38 L332.00,268.36 L332.50,268.34 L333.00,268.31 L333.50,268.29 L334.00,268.27 L334.50,268.24 L335.00,268.22 L335.50,268.20 L336.00,268.17 L336.50,268.15 L337.00,268.12 L337.50,268.10 L338.00,268.07 L338.50,268.04 L339.00,268.01 L339.50,267.99 L340.00,267.96 L340.50,267.93 L341.00,267.90 L341.50,267.87 L342.00,267.84 L342.50,267.81 L343.00,267.78 L343.50,267.74 L344.00,267.71 L344.50,267.68 L345.00,267.64 L345.50,267.61 L346.00,267.57 L346.50,267.54 L347.00,267.50 L347.50,267.46 L348.00,267.42 L348.50,267.39 L349.00,267.35 L349.50,267.30 L350.00,267.26 L350.50,267.22 L351.00,267.18 L351.50,267.13 L352.00,267.09 L352.50,267.04 L353.00,266.99 L353.50,266.94 L354.00,266.90 L354.50,266.84 L355.00,266.79 L355.50,266.74 L356.00,266.69 L356.50,266.63 L357.00,266.57 L357.50,266.52 L358.00,266.46 L358.50,266.40 L359.00,266.33 L359.50,266.27 L360.00,266.21 L360.50,266.14 L361.00,266.07 L361.50,266.00 L362.00,265.93 L362.50,265.86 L363.00,265.78 L363.50,265.70 L364.00,265.63 L364.50,265.54 L365.00,265.46 L365.50,265.38 L366.00,265.29 L366.50,265.20 L367.00,265.11 L367.50,265.01 L368.00,264.91 L368.50,264.81 L369.00,264.71 L369.50,264.60 L370.00,264.50 L370.50,264.38 L371.00,264.27 L371.50,264.15 L372.00,264.03 L372.50,263.90 L373.00,263.77 L373.50,263.64 L374.00,263.50 L374.50,263.36 L375.00,263.22 L375.50,263.06 L376.00,262.91 L376.50,262.75 L377.00,262.58 L377.50,262.41 L378.00,262.24 L378.50,262.05 L379.00,261.87 L379.50,261.67 L380.00,261.47 L380.50,261.26 L381.00,261.04 L381.50,260.82 L382.00,260.59 L382.50,260.35 L383.00,260.10 L383.50,259.84 L384.00,259.57 L384.50,259.30 L385.00,259.01 L385.50,258.71 L386.00,258.40 L386.50,258.07 L387.00,257.74 L387.50,257.38 L388.00,257.02 L388.50,256.64 L389.00,256.24 L389.50,255.83 L390.00,255.40 L390.50,254.95 L391.00,254.48 L391.50,253.99 L392.00,253.48 L392.50,252.94 L393.00,252.38 L393.50,251.79 L394.00,251.17 L394.50,250.53 L395.00,249.85 L395.50,249.14 L396.00,248.39 L396.50,247.61 L397.00,246.78 L397.50,245.91 L398.00,245.00 L398.50,244.04 L399.00,243.02 L399.50,241.95 L400.00,240.82 L400.50,239.63 L401.00,238.37 L401.50,237.04 L402.00,235.63 L402.50,234.13 L403.00,232.55 L403.50,230.88 L404.00,229.10 L404.50,227.22 L405.00,225.22 L405.50,223.10 L406.00,220.85 L406.50,218.47 L407.00,215.93 L407.50,213.24 L408.00,210.39 L408.50,207.37 L409.00,204.16 L409.50,200.77 L410.00,197.19 L410.50,193.40 L411.00,189.42 L411.50,185.24 L412.00,180.86 L412.50,176.29 L413.00,171.54 L413.50,166.64 L414.00,161.61 L414.50,156.49 L415.00,151.32 L415.50,146.17 L416.00,141.08 L416.50,136.15 L417.00,131.45 L417.50,127.07 L418.00,123.12 L418.50,119.68 L419.00,116.84 L419.50,114.67 L420.00,113.25 L420.50,112.61 L421.00,112.77 L421.50,113.73 L422.00,115.45 L422.50,117.90 L423.00,120.99 L423.50,124.64 L424.00,128.78 L424.50,133.29 L425.00,138.10 L425.50,143.10 L426.00,148.22 L426.50,153.39 L427.00,158.55 L427.50,163.64 L428.00,168.62 L428.50,173.46 L429.00,178.14 L429.50,182.63 L430.00,186.93 L430.50,191.04 L431.00,194.94 L431.50,198.64 L432.00,202.15 L432.50,205.46 L433.00,208.60 L433.50,211.55 L434.00,214.34 L434.50,216.96 L435.00,219.44 L435.50,221.77 L436.00,223.97 L436.50,226.03 L437.00,227.99 L437.50,229.82 L438.00,231.56 L438.50,233.20 L439.00,234.74 L439.50,236.20 L440.00,237.58 L440.50,238.88 L441.00,240.11 L441.50,241.28 L442.00,242.39 L442.50,243.44 L443.00,244.43 L443.50,245.37 L444.00,246.27 L444.50,247.12 L445.00,247.93 L445.50,248.70 L446.00,249.43 L446.50,250.12 L447.00,250.79 L447.50,251.42 L448.00,252.03 L448.50,252.61 L449.00,253.16 L449.50,253.68 L450.00,254.19 L450.50,254.67 L451.00,255.13 L451.50,255.57 L452.00,256.00 L452.50,256.40 L453.00,256.79 L453.50,257.17 L454.00,257.53 L454.50,257.87 L455.00,258.20 L455.50,258.52 L456.00,258.83 L456.50,259.12 L457.00,259.41 L457.50,259.68 L458.00,259.95 L458.50,260.20 L459.00,260.45 L459.50,260.68 L460.00,260.91 L460.50,261.13 L461.00,261.34 L461.50,261.55 L462.00,261.75 L462.50,261.94 L463.00,262.13 L463.50,262.31 L464.00,262.48 L464.50,262.65 L465.00,262.81 L465.50,262.97 L466.00,263.13 L466.50,263.27 L467.00,263.42 L467.50,263.56 L468.00,263.69 L468.50,263.83 L469.00,263.95 L469.50,264.08 L470.00,264.20 L470.50,264.32 L471.00,264.43 L471.50,264.54 L472.00,264.65 L472.50,264.75 L473.00,264.85 L473.50,264.95 L474.00,265.05 L474.50,265.14 L475.00,265.23 L475.50,265.32 L476.00,265.41 L476.50,265.50 L477.00,265.58 L477.50,265.66 L478.00,265.74 L478.50,265.81 L479.00,265.89 L479.50,265.96 L480.00,266.03 L480.50,266.10 L481.00,266.17 L481.50,266.23 L482.00,266.30 L482.50,266.36 L483.00,266.42 L483.50,266.48 L484.00,266.54 L484.50,266.60 L485.00,266.65 L485.50,266.71 L486.00,266.76 L486.50,266.81 L487.00,266.86 L487.50,266.92 L488.00,266.96 L488.50,267.01 L489.00,267.06 L489.50,267.10 L490.00,267.15 L490.50,267.19 L491.00,267.24 L491.50,267.28 L492.00,267.32 L492.50,267.36 L493.00,267.40 L493.50,267.44 L494.00,267.48 L494.50,267.52 L495.00,267.55 L495.50,267.59 L496.00,267.62 L496.50,267.66 L497.00,267.69 L497.50,267.73 L498.00,267.76 L498.50,267.79 L499.00,267.82 L499.50,267.85 L500.00,267.88" fill="none" stroke="#1fa55f" stroke-width="2.7"/>
<path d="M80.00,260.65 L80.50,260.57 L81.00,260.49 L81.50,260.41 L82.00,260.33 L82.50,260.26 L83.00,260.18 L83.50,260.11 L84.00,260.03 L84.50,259.96 L85.00,259.89 L85.50,259.82 L86.00,259.74 L86.50,259.67 L87.00,259.60 L87.50,259.52 L88.00,259.45 L88.50,259.38 L89.00,259.30 L89.50,259.22 L90.00,259.14 L90.50,259.06 L91.00,258.98 L91.50,258.89 L92.00,258.80 L92.50,258.71 L93.00,258.62 L93.50,258.52 L94.00,258.42 L94.50,258.32 L95.00,258.22 L95.50,258.11 L96.00,258.00 L96.50,257.88 L97.00,257.76 L97.50,257.64 L98.00,257.52 L98.50,257.39 L99.00,257.26 L99.50,257.13 L100.00,256.99 L100.50,256.85 L101.00,256.71 L101.50,256.56 L102.00,256.41 L102.50,256.26 L103.00,256.10 L103.50,255.94 L104.00,255.78 L104.50,255.62 L105.00,255.45 L105.50,255.29 L106.00,255.12 L106.50,254.94 L107.00,254.76 L107.50,254.59 L108.00,254.40 L108.50,254.22 L109.00,254.03 L109.50,253.84 L110.00,253.65 L110.50,253.45 L111.00,253.25 L111.50,253.05 L112.00,252.85 L112.50,252.64 L113.00,252.42 L113.50,252.21 L114.00,251.99 L114.50,251.76 L115.00,251.53 L115.50,251.30 L116.00,251.06 L116.50,250.82 L117.00,250.57 L117.50,250.32 L118.00,250.06 L118.50,249.80 L119.00,249.54 L119.50,249.27 L120.00,248.99 L120.50,248.71 L121.00,248.43 L121.50,248.14 L122.00,247.85 L122.50,247.55 L123.00,247.25 L123.50,246.95 L124.00,246.65 L124.50,246.34 L125.00,246.03 L125.50,245.72 L126.00,245.41 L126.50,245.11 L127.00,244.80 L127.50,244.49 L128.00,244.18 L128.50,243.88 L129.00,243.58 L129.50,243.28 L130.00,242.99 L130.50,242.71 L131.00,242.43 L131.50,242.15 L132.00,241.88 L132.50,241.62 L133.00,241.37 L133.50,241.13 L134.00,240.89 L134.50,240.67 L135.00,240.45 L135.50,240.25 L136.00,240.05 L136.50,239.86 L137.00,239.69 L137.50,239.52 L138.00,239.36 L138.50,239.21 L139.00,239.07 L139.50,238.94 L140.00,238.81 L140.50,238.69 L141.00,238.58 L141.50,238.47 L142.00,238.37 L142.50,238.27 L143.00,238.18 L143.50,238.09 L144.00,238.00 L144.50,237.91 L145.00,237.82 L145.50,237.73 L146.00,237.64 L146.50,237.55 L147.00,237.46 L147.50,237.37 L148.00,237.27 L148.50,237.17 L149.00,237.07 L149.50,236.97 L150.00,236.86 L150.50,236.75 L151.00,236.63 L151.50,236.52 L152.00,236.39 L152.50,236.26 L153.00,236.13 L153.50,236.00 L154.00,235.86 L154.50,235.71 L155.00,235.57 L155.50,235.41 L156.00,235.26 L156.50,235.09 L157.00,234.93 L157.50,234.76 L158.00,234.58 L158.50,234.40 L159.00,234.22 L159.50,234.03 L160.00,233.84 L160.50,233.64 L161.00,233.44 L161.50,233.23 L162.00,233.02 L162.50,232.81 L163.00,232.59 L163.50,232.36 L164.00,232.13 L164.50,231.89 L165.00,231.65 L165.50,231.40 L166.00,231.15 L166.50,230.90 L167.00,230.63 L167.50,230.37 L168.00,230.10 L168.50,229.82 L169.00,229.54 L169.50,229.25 L170.00,228.96 L170.50,228.67 L171.00,228.37 L171.50,228.07 L172.00,227.76 L172.50,227.45 L173.00,227.13 L173.50,226.82 L174.00,226.50 L174.50,226.17 L175.00,225.85 L175.50,225.52 L176.00,225.19 L176.50,224.86 L177.00,224.53 L177.50,224.19 L178.00,223.86 L178.50,223.52 L179.00,223.19 L179.50,222.85 L180.00,222.52 L180.50,222.18 L181.00,221.85 L181.50,221.51 L182.00,221.18 L182.50,220.85 L183.00,220.52 L183.50,220.19 L184.00,219.87 L184.50,219.54 L185.00,219.22 L185.50,218.90 L186.00,218.58 L186.50,218.27 L187.00,217.96 L187.50,217.65 L188.00,217.35 L188.50,217.05 L189.00,216.75 L189.50,216.45 L190.00,216.16 L190.50,215.87 L191.00,215.59 L191.50,215.30 L192.00,215.03 L192.50,214.75 L193.00,214.48 L193.50,214.21 L194.00,213.94 L194.50,213.68 L195.00,213.42 L195.50,213.16 L196.00,212.91 L196.50,212.66 L197.00,212.41 L197.50,212.16 L198.00,211.92 L198.50,211.68 L199.00,211.44 L199.50,211.20 L200.00,210.97 L200.50,210.74 L201.00,210.51 L201.50,210.28 L202.00,210.05 L202.50,209.82 L203.00,209.60 L203.50,209.38 L204.00,209.16 L204.50,208.93 L205.00,208.72 L205.50,208.50 L206.00,208.28 L206.50,208.06 L207.00,207.85 L207.50,207.63 L208.00,207.42 L208.50,207.21 L209.00,206.99 L209.50,206.78 L210.00,206.57 L210.50,206.36 L211.00,206.14 L211.50,205.93 L212.00,205.71 L212.50,205.50 L213.00,205.28 L213.50,205.06 L214.00,204.84 L214.50,204.62 L215.00,204.39 L215.50,204.15 L216.00,203.92 L216.50,203.67 L217.00,203.42 L217.50,203.16 L218.00,202.89 L218.50,202.61 L219.00,202.32 L219.50,202.02 L220.00,201.70 L220.50,201.37 L221.00,201.02 L221.50,200.65 L222.00,200.26 L222.50,199.86 L223.00,199.43 L223.50,198.98 L224.00,198.51 L224.50,198.01 L225.00,197.48 L225.50,196.93 L226.00,196.35 L226.50,195.74 L227.00,195.09 L227.50,194.42 L228.00,193.71 L228.50,192.97 L229.00,192.19 L229.50,191.38 L230.00,190.53 L230.50,189.65 L231.00,188.72 L231.50,187.75 L232.00,186.75 L232.50,185.70 L233.00,184.61 L233.50,183.47 L234.00,182.29 L234.50,181.06 L235.00,179.78 L235.50,178.45 L236.00,177.07 L236.50,175.64 L237.00,174.16 L237.50,172.62 L238.00,171.02 L238.50,169.37 L239.00,167.65 L239.50,165.88 L240.00,164.05 L240.50,162.15 L241.00,160.19 L241.50,158.17 L242.00,156.08 L242.50,153.94 L243.00,151.73 L243.50,149.45 L244.00,147.12 L244.50,144.73 L245.00,142.28 L245.50,139.79 L246.00,137.24 L246.50,134.65 L247.00,132.01 L247.50,129.35 L248.00,126.66 L248.50,123.95 L249.00,121.23 L249.50,118.51 L250.00,115.79 L250.50,113.09 L251.00,110.41 L251.50,107.77 L252.00,105.18 L252.50,102.64 L253.00,100.17 L253.50,97.77 L254.00,95.45 L254.50,93.22 L255.00,91.08 L255.50,89.04 L256.00,87.11 L256.50,85.28 L257.00,83.55 L257.50,81.92 L258.00,80.38 L258.50,78.94 L259.00,77.58 L259.50,76.30 L260.00,75.08 L260.50,73.90 L261.00,72.77 L261.50,71.66 L262.00,70.56 L262.50,69.46 L263.00,68.34 L263.50,67.20 L264.00,66.03 L264.50,64.82 L265.00,63.57 L265.50,62.29 L266.00,61.00 L266.50,59.70 L267.00,58.44 L267.50,57.24 L268.00,56.15 L268.50,55.23 L269.00,54.54 L269.50,54.15 L270.00,54.12 L270.50,54.52 L271.00,55.40 L271.50,56.83 L272.00,58.82 L272.50,61.38 L273.00,64.52 L273.50,68.21 L274.00,72.40 L274.50,77.03 L275.00,82.03 L275.50,87.33 L276.00,92.84 L276.50,98.51 L277.00,104.24 L277.50,109.99 L278.00,115.70 L278.50,121.33 L279.00,126.83 L279.50,132.18 L280.00,137.36 L280.50,142.35 L281.00,147.13 L281.50,151.72 L282.00,156.09 L282.50,160.25 L283.00,164.21 L283.50,167.96 L284.00,171.52 L284.50,174.88 L285.00,178.05 L285.50,181.05 L286.00,183.87 L286.50,186.52 L287.00,189.02 L287.50,191.36 L288.00,193.56 L288.50,195.62 L289.00,197.55 L289.50,199.36 L290.00,201.04 L290.50,202.62 L291.00,204.09 L291.50,205.47 L292.00,206.75 L292.50,207.94 L293.00,209.05 L293.50,210.08 L294.00,211.04 L294.50,211.93 L295.00,212.76 L295.50,213.53 L296.00,214.25 L296.50,214.91 L297.00,215.53 L297.50,216.10 L298.00,216.64 L298.50,217.13 L299.00,217.60 L299.50,218.03 L300.00,218.43 L300.50,218.81 L301.00,219.17 L301.50,219.50 L302.00,219.81 L302.50,220.10 L303.00,220.38 L303.50,220.64 L304.00,220.88 L304.50,221.10 L305.00,221.31 L305.50,221.51 L306.00,221.68 L306.50,221.84 L307.00,221.98 L307.50,222.11 L308.00,222.21 L308.50,222.28 L309.00,222.34 L309.50,222.37 L310.00,222.37 L310.50,222.34 L311.00,222.29 L311.50,222.21 L312.00,222.10 L312.50,221.96 L313.00,221.80 L313.50,221.61 L314.00,221.40 L314.50,221.19 L315.00,220.96 L315.50,220.74 L316.00,220.52 L316.50,220.33 L317.00,220.17 L317.50,220.05 L318.00,219.99 L318.50,219.99 L319.00,220.06 L319.50,220.21 L320.00,220.44 L320.50,220.75 L321.00,221.13 L321.50,221.59 L322.00,222.11 L322.50,222.69 L323.00,223.31 L323.50,223.97 L324.00,224.65 L324.50,225.33 L325.00,226.03 L325.50,226.71 L326.00,227.38 L326.50,228.03 L327.00,228.66 L327.50,229.27 L328.00,229.84 L328.50,230.39 L329.00,230.91 L329.50,231.40 L330.00,231.86 L330.50,232.29 L331.00,232.71 L331.50,233.10 L332.00,233.47 L332.50,233.82 L333.00,234.15 L333.50,234.47 L334.00,234.78 L334.50,235.08 L335.00,235.36 L335.50,235.64 L336.00,235.90 L336.50,236.16 L337.00,236.42 L337.50,236.66 L338.00,236.90 L338.50,237.13 L339.00,237.35 L339.50,237.57 L340.00,237.77 L340.50,237.97 L341.00,238.15 L341.50,238.33 L342.00,238.49 L342.50,238.65 L343.00,238.78 L343.50,238.91 L344.00,239.02 L344.50,239.11 L345.00,239.19 L345.50,239.25 L346.00,239.30 L346.50,239.33 L347.00,239.34 L347.50,239.34 L348.00,239.32 L348.50,239.28 L349.00,239.23 L349.50,239.15 L350.00,239.07 L350.50,238.97 L351.00,238.85 L351.50,238.72 L352.00,238.58 L352.50,238.43 L353.00,238.26 L353.50,238.08 L354.00,237.89 L354.50,237.70 L355.00,237.49 L355.50,237.28 L356.00,237.06 L356.50,236.84 L357.00,236.61 L357.50,236.37 L358.00,236.14 L358.50,235.90 L359.00,235.66 L359.50,235.42 L360.00,235.18 L360.50,234.94 L361.00,234.70 L361.50,234.47 L362.00,234.23 L362.50,234.00 L363.00,233.78 L363.50,233.56 L364.00,233.34 L364.50,233.13 L365.00,232.92 L365.50,232.72 L366.00,232.53 L366.50,232.34 L367.00,232.16 L367.50,231.98 L368.00,231.81 L368.50,231.65 L369.00,231.50 L369.50,231.35 L370.00,231.21 L370.50,231.07 L371.00,230.95 L371.50,230.83 L372.00,230.72 L372.50,230.61 L373.00,230.51 L373.50,230.42 L374.00,230.33 L374.50,230.25 L375.00,230.17 L375.50,230.10 L376.00,230.04 L376.50,229.98 L377.00,229.92 L377.50,229.88 L378.00,229.83 L378.50,229.79 L379.00,229.75 L379.50,229.72 L380.00,229.69 L380.50,229.66 L381.00,229.63 L381.50,229.61 L382.00,229.59 L382.50,229.56 L383.00,229.54 L383.50,229.52 L384.00,229.49 L384.50,229.46 L385.00,229.42 L385.50,229.39 L386.00,229.34 L386.50,229.29 L387.00,229.22 L387.50,229.15 L388.00,229.07 L388.50,228.97 L389.00,228.86 L389.50,228.73 L390.00,228.58 L390.50,228.42 L391.00,228.23 L391.50,228.02 L392.00,227.78 L392.50,227.52 L393.00,227.23 L393.50,226.91 L394.00,226.56 L394.50,226.17 L395.00,225.75 L395.50,225.29 L396.00,224.79 L396.50,224.24 L397.00,223.65 L397.50,223.01 L398.00,222.32 L398.50,221.58 L399.00,220.78 L399.50,219.92 L400.00,219.00 L400.50,218.01 L401.00,216.95 L401.50,215.81 L402.00,214.60 L402.50,213.30 L403.00,211.91 L403.50,210.42 L404.00,208.84 L404.50,207.14 L405.00,205.33 L405.50,203.40 L406.00,201.34 L406.50,199.15 L407.00,196.81 L407.50,194.31 L408.00,191.66 L408.50,188.83 L409.00,185.83 L409.50,182.65 L410.00,179.27 L410.50,175.70 L411.00,171.94 L411.50,167.98 L412.00,163.82 L412.50,159.48 L413.00,154.97 L413.50,150.31 L414.00,145.52 L414.50,140.65 L415.00,135.73 L415.50,130.82 L416.00,125.99 L416.50,121.31 L417.00,116.87 L417.50,112.76 L418.00,109.06 L418.50,105.88 L419.00,103.30 L419.50,101.40 L420.00,100.24 L420.50,99.85 L421.00,100.27 L421.50,101.47 L422.00,103.44 L422.50,106.13 L423.00,109.46 L423.50,113.34 L424.00,117.70 L424.50,122.43 L425.00,127.45 L425.50,132.65 L426.00,137.97 L426.50,143.32 L427.00,148.66 L427.50,153.91 L428.00,159.05 L428.50,164.04 L429.00,168.86 L429.50,173.49 L430.00,177.91 L430.50,182.13 L431.00,186.14 L431.50,189.94 L432.00,193.53 L432.50,196.93 L433.00,200.13 L433.50,203.15 L434.00,205.99 L434.50,208.67 L435.00,211.19 L435.50,213.56 L436.00,215.78 L436.50,217.88 L437.00,219.85 L437.50,221.71 L438.00,223.46 L438.50,225.10 L439.00,226.66 L439.50,228.12 L440.00,229.50 L440.50,230.80 L441.00,232.04 L441.50,233.20 L442.00,234.31 L442.50,235.35 L443.00,236.34 L443.50,237.29 L444.00,238.18 L444.50,239.03 L445.00,239.84 L445.50,240.62 L446.00,241.35 L446.50,242.06 L447.00,242.73 L447.50,243.38 L448.00,243.99 L448.50,244.59 L449.00,245.15 L449.50,245.70 L450.00,246.23 L450.50,246.73 L451.00,247.22 L451.50,247.69 L452.00,248.14 L452.50,248.58 L453.00,249.00 L453.50,249.40 L454.00,249.79 L454.50,250.17 L455.00,250.54 L455.50,250.89 L456.00,251.24 L456.50,251.57 L457.00,251.89 L457.50,252.20 L458.00,252.50 L458.50,252.79 L459.00,253.07 L459.50,253.34 L460.00,253.60 L460.50,253.86 L461.00,254.10 L461.50,254.34 L462.00,254.57 L462.50,254.80 L463.00,255.02 L463.50,255.23 L464.00,255.43 L464.50,255.63 L465.00,255.83 L465.50,256.01 L466.00,256.20 L466.50,256.37 L467.00,256.55 L467.50,256.71 L468.00,256.88 L468.50,257.03 L469.00,257.19 L469.50,257.34 L470.00,257.48 L470.50,257.63 L471.00,257.76 L471.50,257.90 L472.00,258.03 L472.50,258.16 L473.00,258.29 L473.50,258.41 L474.00,258.53 L474.50,258.64 L475.00,258.76 L475.50,258.87 L476.00,258.98 L476.50,259.09 L477.00,259.20 L477.50,259.30 L478.00,259.40 L478.50,259.50 L479.00,259.60 L479.50,259.70 L480.00,259.80 L480.50,259.90 L481.00,259.99 L481.50,260.08 L482.00,260.18 L482.50,260.27 L483.00,260.36 L483.50,260.45 L484.00,260.54 L484.50,260.62 L485.00,260.71 L485.50,260.80 L486.00,260.88 L486.50,260.97 L487.00,261.05 L487.50,261.14 L488.00,261.22 L488.50,261.31 L489.00,261.39 L489.50,261.48 L490.00,261.56 L490.50,261.65 L491.00,261.74 L491.50,261.82 L492.00,261.91 L492.50,262.00 L493.00,262.09 L493.50,262.19 L494.00,262.28 L494.50,262.38 L495.00,262.47 L495.50,262.57 L496.00,262.67 L496.50,262.77 L497.00,262.87 L497.50,262.97 L498.00,263.08 L498.50,263.18 L499.00,263.28 L499.50,263.39 L500.00,263.49" fill="none" stroke="#0d0d0d" stroke-width="2.1" stroke-dasharray="6.2 3.7" stroke-dashoffset="3.20"/>
<text transform="translate(-0.21,11.50) scale(0.9509,1)" style="font-size:17.40px;font-weight:bold;font-style:normal" fill="#000" stroke="#000" stroke-width="0.6">A</text>
<text transform="translate(60.25,274.30) scale(1.0204,1)" style="font-size:13.60px;font-weight:bold;font-style:normal" fill="#000" stroke="#000" stroke-width="0.12">0</text>
<text transform="translate(38.29,230.37) scale(0.9802,1)" style="font-size:13.60px;font-weight:bold;font-style:normal" fill="#000" stroke="#000" stroke-width="0.12">5000</text>
<text transform="translate(30.66,186.43) scale(0.9862,1)" style="font-size:13.60px;font-weight:bold;font-style:normal" fill="#000" stroke="#000" stroke-width="0.12">10000</text>
<text transform="translate(30.66,142.50) scale(0.9862,1)" style="font-size:13.60px;font-weight:bold;font-style:normal" fill="#000" stroke="#000" stroke-width="0.12">15000</text>
<text transform="translate(31.04,98.56) scale(0.9758,1)" style="font-size:13.60px;font-weight:bold;font-style:normal" fill="#000" stroke="#000" stroke-width="0.12">20000</text>
<text transform="translate(31.04,54.63) scale(0.9758,1)" style="font-size:13.60px;font-weight:bold;font-style:normal" fill="#000" stroke="#000" stroke-width="0.12">25000</text>
<text transform="translate(31.20,10.69) scale(0.9716,1)" style="font-size:13.60px;font-weight:bold;font-style:normal" fill="#000" stroke="#000" stroke-width="0.12">30000</text>
<text transform="translate(69.76,293.40) scale(0.9432,1)" style="font-size:13.60px;font-weight:bold;font-style:normal" fill="#000" stroke="#000" stroke-width="0.12">275</text>
<text transform="translate(129.91,293.40) scale(0.9440,1)" style="font-size:13.60px;font-weight:bold;font-style:normal" fill="#000" stroke="#000" stroke-width="0.12">300</text>
<text transform="translate(189.91,293.40) scale(0.9363,1)" style="font-size:13.60px;font-weight:bold;font-style:normal" fill="#000" stroke="#000" stroke-width="0.12">325</text>
<text transform="translate(249.91,293.40) scale(0.9440,1)" style="font-size:13.60px;font-weight:bold;font-style:normal" fill="#000" stroke="#000" stroke-width="0.12">350</text>
<text transform="translate(309.91,293.40) scale(0.9363,1)" style="font-size:13.60px;font-weight:bold;font-style:normal" fill="#000" stroke="#000" stroke-width="0.12">375</text>
<text transform="translate(370.01,293.40) scale(0.9395,1)" style="font-size:13.60px;font-weight:bold;font-style:normal" fill="#000" stroke="#000" stroke-width="0.12">400</text>
<text transform="translate(430.01,293.40) scale(0.9318,1)" style="font-size:13.60px;font-weight:bold;font-style:normal" fill="#000" stroke="#000" stroke-width="0.12">425</text>
<text transform="translate(490.01,293.40) scale(0.9395,1)" style="font-size:13.60px;font-weight:bold;font-style:normal" fill="#000" stroke="#000" stroke-width="0.12">450</text>
<text transform="translate(226.33,315.40) scale(1.0530,1)" style="font-size:14.60px;font-weight:normal;font-style:normal" fill="#000" stroke="#000" stroke-width="0.6">Wavenumber</text>
<text transform="translate(320.37,315.40) scale(0.9730,1)" style="font-size:14.60px;font-weight:normal;font-style:normal" fill="#000" stroke="#000" stroke-width="0.6">(cm</text>
<rect x="343.75" y="308.05" width="1.85" height="1.1" fill="#000"/>
<text transform="translate(345.82,311.75) scale(0.7781,1)" style="font-size:8.70px;font-weight:bold;font-style:normal" fill="#000" stroke="#000" stroke-width="0.2">1</text>
<text transform="translate(353.68,315.40) scale(0.8137,1)" style="font-size:14.60px;font-weight:normal;font-style:normal" fill="#000" stroke="#000" stroke-width="0.6">)</text>
<text transform="translate(16.70,216.27) rotate(-90) scale(1.0184,1)" style="font-size:15.60px;font-weight:normal;font-style:normal" fill="#000" stroke="#000" stroke-width="0.7">Intensity (arbitrary unit)</text>
<defs><radialGradient id="gg" cx="0.4" cy="0.4" r="0.65"><stop offset="0" stop-color="#2fa82f"/><stop offset="0.55" stop-color="#0c6e18"/><stop offset="1" stop-color="#05420c"/></radialGradient><radialGradient id="yg" cx="0.4" cy="0.4" r="0.65"><stop offset="0" stop-color="#ffff80"/><stop offset="0.55" stop-color="#e6dc10"/><stop offset="1" stop-color="#a8a000"/></radialGradient></defs>
<line x1="206.9" y1="41.1" x2="214.85000000000002" y2="28.55" stroke="#334a28" stroke-width="1.7"/>
<line x1="214.85000000000002" y1="28.55" x2="222.8" y2="16" stroke="#dcdc48" stroke-width="1.7"/>
<line x1="206.9" y1="41.1" x2="214.65" y2="53.650000000000006" stroke="#334a28" stroke-width="1.7"/>
<line x1="214.65" y1="53.650000000000006" x2="222.4" y2="66.2" stroke="#dcdc48" stroke-width="1.7"/>
<circle cx="206.9" cy="41.1" r="6.7" fill="url(#gg)"/>
<circle cx="222.8" cy="16" r="4.4" fill="url(#yg)"/>
<circle cx="222.4" cy="66.2" r="4.4" fill="url(#yg)"/>
<line x1="197.5" y1="41.5" x2="190.80" y2="41.50" stroke="#2a2a88" stroke-width="3.0"/>
<polygon points="186.70,41.50 191.30,38.20 191.30,44.80" fill="#2a2a88"/>
<line x1="229" y1="16.4" x2="235.10" y2="16.40" stroke="#2a2a88" stroke-width="3.0"/>
<polygon points="239.20,16.40 234.60,19.70 234.60,13.10" fill="#2a2a88"/>
<line x1="229" y1="66.2" x2="235.10" y2="66.20" stroke="#2a2a88" stroke-width="3.0"/>
<polygon points="239.20,66.20 234.60,69.50 234.60,62.90" fill="#2a2a88"/>
<line x1="377" y1="141.8" x2="384.7" y2="129.55" stroke="#334a28" stroke-width="1.7"/>
<line x1="384.7" y1="129.55" x2="392.4" y2="117.3" stroke="#dcdc48" stroke-width="1.7"/>
<line x1="377" y1="141.8" x2="384.7" y2="154.2" stroke="#334a28" stroke-width="1.7"/>
<line x1="384.7" y1="154.2" x2="392.4" y2="166.6" stroke="#dcdc48" stroke-width="1.7"/>
<circle cx="377" cy="141.8" r="6.7" fill="url(#gg)"/>
<circle cx="392.4" cy="117.3" r="4.4" fill="url(#yg)"/>
<circle cx="392.4" cy="166.6" r="4.4" fill="url(#yg)"/>
<line x1="392.4" y1="111.6" x2="392.40" y2="105.60" stroke="#5e8c6c" stroke-width="3.0"/>
<polygon points="392.40,101.50 395.70,106.10 389.10,106.10" fill="#5e8c6c"/>
<line x1="392.4" y1="173.5" x2="392.40" y2="179.50" stroke="#5e8c6c" stroke-width="3.0"/>
<polygon points="392.40,183.60 389.10,179.00 395.70,179.00" fill="#5e8c6c"/>
<text transform="translate(230.27,45.30) scale(0.7380,1)" style="font-size:12.80px;font-weight:bold;font-style:normal" fill="#3434c4" stroke="#3434c4" stroke-width="0.12">E</text>
<text transform="translate(237.14,40.50) scale(0.7691,1)" style="font-size:9.50px;font-weight:bold;font-style:normal" fill="#3434c4" stroke="#3434c4" stroke-width="0.3">1</text>
<text transform="translate(242.09,48.80) scale(1.0988,1)" style="font-size:8.20px;font-weight:bold;font-style:normal" fill="#3434c4" stroke="#3434c4" stroke-width="0.3">2g</text>
<text transform="translate(255.25,45.30) scale(1.0190,1)" style="font-size:12.80px;font-weight:bold;font-style:normal" fill="#3434c4" stroke="#3434c4" stroke-width="0.12">(355.2 cm</text>
<rect x="314.9" y="37.70" width="1.90" height="1.2" fill="#3434c4"/>
<text transform="translate(317.49,41.00) scale(0.9386,1)" style="font-size:8.70px;font-weight:bold;font-style:normal" fill="#3434c4" stroke="#3434c4" stroke-width="0.3">1</text>
<text transform="translate(323.19,45.30) scale(0.7474,1)" style="font-size:12.80px;font-weight:bold;font-style:normal" fill="#3434c4" stroke="#3434c4" stroke-width="0.12">)</text>
<text transform="translate(370.41,87.90) scale(0.9058,1)" style="font-size:13.00px;font-weight:bold;font-style:normal" fill="#26a862" stroke="#26a862" stroke-width="0.12">A</text>
<text transform="translate(378.94,91.00) scale(1.0818,1)" style="font-size:8.20px;font-weight:bold;font-style:normal" fill="#26a862" stroke="#26a862" stroke-width="0.3">1g</text>
<text transform="translate(392.15,87.90) scale(1.0068,1)" style="font-size:13.00px;font-weight:bold;font-style:normal" fill="#26a862" stroke="#26a862" stroke-width="0.12">(417.2 cm</text>
<rect x="451.8" y="80.50" width="2.50" height="1.2" fill="#26a862"/>
<text transform="translate(454.93,83.60) scale(0.9286,1)" style="font-size:8.10px;font-weight:bold;font-style:normal" fill="#26a862" stroke="#26a862" stroke-width="0.3">1</text>
<text transform="translate(460.39,87.90) scale(0.7087,1)" style="font-size:13.00px;font-weight:bold;font-style:normal" fill="#26a862" stroke="#26a862" stroke-width="0.12">)</text>
<text transform="translate(186.51,118.20) scale(1.0631,1)" style="font-size:10.60px;font-weight:bold;font-style:normal" fill="#f1a254" stroke="#f1a254" stroke-width="0.12">2LA</text>
<text transform="translate(160.75,144.30) scale(1.1817,1)" style="font-size:11.00px;font-weight:bold;font-style:normal" fill="#f1a254" stroke="#f1a254" stroke-width="0.12">(349.3 cm</text>
<rect x="220.9" y="137.65" width="2.70" height="1.1" fill="#f1a254"/>
<text transform="translate(224.23,140.10) scale(0.7439,1)" style="font-size:7.80px;font-weight:bold;font-style:normal" fill="#f1a254" stroke="#f1a254" stroke-width="0.3">1</text>
<text transform="translate(229.39,144.30) scale(0.8697,1)" style="font-size:11.00px;font-weight:bold;font-style:normal" fill="#f1a254" stroke="#f1a254" stroke-width="0.12">)</text>
<text transform="translate(0.21,344.00) scale(0.8481,1)" style="font-size:17.40px;font-weight:bold;font-style:normal" fill="#000" stroke="#000" stroke-width="0.6">B</text>
<line x1="0" y1="361" x2="520" y2="361" stroke="#a4a4a4" stroke-width="1.4"/>
<line x1="0" y1="624.3" x2="520" y2="624.3" stroke="#a4a4a4" stroke-width="1.6"/>
<text transform="translate(21.92,384.80) scale(0.9535,1)" style="font-size:13.80px;font-weight:bold;font-style:normal" fill="#000" stroke="#000" stroke-width="0.12">Reference</text>
<text transform="translate(128.69,375.80) scale(0.8988,1)" style="font-size:13.80px;font-weight:bold;font-style:normal" fill="#000" stroke="#000" stroke-width="0.12">Analysis</text>
<text transform="translate(118.74,393.10) scale(0.9632,1)" style="font-size:13.80px;font-weight:bold;font-style:normal" fill="#000" stroke="#000" stroke-width="0.12">wavelength</text>
<text transform="translate(207.21,376.20) scale(0.9690,1)" style="font-size:13.80px;font-weight:bold;font-style:normal" fill="#000" stroke="#000" stroke-width="0.12">Number of WS</text>
<text transform="translate(299.45,378.30) scale(1.2782,1)" style="font-size:7.80px;font-weight:bold;font-style:normal" fill="#000" stroke="#000" stroke-width="0.3">2</text>
<text transform="translate(237.10,393.20) scale(0.9355,1)" style="font-size:13.80px;font-weight:bold;font-style:normal" fill="#000" stroke="#000" stroke-width="0.12">layers</text>
<text transform="translate(318.06,377.30) scale(0.9561,1)" style="font-size:13.80px;font-weight:bold;font-style:normal" fill="#000" stroke="#000" stroke-width="0.12">Characteristic vibration modes</text>
<text transform="translate(396.54,395.90) scale(0.9610,1)" style="font-size:13.80px;font-weight:bold;font-style:normal" fill="#000" stroke="#000" stroke-width="0.12">(cm</text>
<rect x="420.3" y="387.65" width="1.90" height="1.1" fill="#000"/>
<text transform="translate(422.82,390.40) scale(0.8131,1)" style="font-size:7.40px;font-weight:bold;font-style:normal" fill="#000" stroke="#000" stroke-width="0.3">1</text>
<text transform="translate(429.19,395.90) scale(0.7959,1)" style="font-size:13.80px;font-weight:bold;font-style:normal" fill="#000" stroke="#000" stroke-width="0.12">)</text>
<text transform="translate(332.55,416.45) scale(1.0045,1)" style="font-size:13.80px;font-weight:bold;font-style:normal" fill="#000" stroke="#000" stroke-width="0.12">A</text>
<text transform="translate(342.15,418.80) scale(0.9433,1)" style="font-size:9.20px;font-weight:bold;font-style:normal" fill="#000" stroke="#000" stroke-width="0.3">1g</text>
<text transform="translate(397.42,416.60) scale(0.8395,1)" style="font-size:13.80px;font-weight:bold;font-style:normal" fill="#000" stroke="#000" stroke-width="0.12">E</text>
<text transform="translate(405.02,410.20) scale(1.0267,1)" style="font-size:9.00px;font-weight:bold;font-style:normal" fill="#000" stroke="#000" stroke-width="0.3">1</text>
<text transform="translate(410.19,418.50) scale(0.9794,1)" style="font-size:9.20px;font-weight:bold;font-style:normal" fill="#000" stroke="#000" stroke-width="0.3">2g</text>
<text transform="translate(469.77,416.60) scale(0.9038,1)" style="font-size:13.80px;font-weight:bold;font-style:normal" fill="#000" stroke="#000" stroke-width="0.12">2LA</text>
<text transform="translate(12.77,457.00) scale(0.9620,1)" style="font-size:13.80px;font-weight:bold;font-style:normal" fill="#000" stroke="#000" stroke-width="0.12">A. Berkdemir</text>
<text transform="translate(9.88,474.50) scale(0.9985,1)" style="font-size:13.80px;font-weight:bold;font-style:italic" fill="#000" stroke="#000" stroke-width="0.12">et al.</text>
<text transform="translate(45.57,474.50) scale(0.9434,1)" style="font-size:13.80px;font-weight:bold;font-style:normal" fill="#000" stroke="#000" stroke-width="0.12">[Ref. 23]</text>
<text transform="translate(123.57,457.00) scale(1.0123,1)" style="font-size:13.80px;font-weight:bold;font-style:normal" fill="#000" stroke="#000" stroke-width="0.12">514.5 nm</text>
<text transform="translate(130.18,538.50) scale(1.0239,1)" style="font-size:13.80px;font-weight:bold;font-style:normal" fill="#000" stroke="#000" stroke-width="0.12">647 nm</text>
<text transform="translate(23.86,619.70) scale(0.9336,1)" style="font-size:13.80px;font-weight:bold;font-style:normal" fill="#000" stroke="#000" stroke-width="0.12">This work</text>
<text transform="translate(130.27,619.70) scale(1.0221,1)" style="font-size:13.80px;font-weight:bold;font-style:normal" fill="#000" stroke="#000" stroke-width="0.12">532 nm</text>
<text transform="translate(251.83,457.00) scale(1.0600,1)" style="font-size:13.80px;font-weight:bold" fill="#000" stroke="#000" stroke-width="0.12">1</text>
<text transform="translate(324.20,457.00) scale(1.0600,1)" style="font-size:13.80px;font-weight:bold" fill="#000" stroke="#000" stroke-width="0.12">417.2</text>
<text transform="translate(390.20,457.00) scale(1.0600,1)" style="font-size:13.80px;font-weight:bold" fill="#000" stroke="#000" stroke-width="0.12">355.2</text>
<text transform="translate(463.00,457.00) scale(1.0600,1)" style="font-size:13.80px;font-weight:bold" fill="#000" stroke="#000" stroke-width="0.12">351.1</text>
<text transform="translate(251.83,477.50) scale(1.0600,1)" style="font-size:13.80px;font-weight:bold" fill="#000" stroke="#000" stroke-width="0.12">2</text>
<text transform="translate(324.20,477.50) scale(1.0600,1)" style="font-size:13.80px;font-weight:bold" fill="#000" stroke="#000" stroke-width="0.12">418.4</text>
<text transform="translate(390.20,477.50) scale(1.0600,1)" style="font-size:13.80px;font-weight:bold" fill="#000" stroke="#000" stroke-width="0.12">355.0</text>
<text transform="translate(463.00,477.50) scale(1.0600,1)" style="font-size:13.80px;font-weight:bold" fill="#000" stroke="#000" stroke-width="0.12">350.7</text>
<text transform="translate(251.83,497.70) scale(1.0600,1)" style="font-size:13.80px;font-weight:bold" fill="#000" stroke="#000" stroke-width="0.12">3</text>
<text transform="translate(324.20,497.70) scale(1.0600,1)" style="font-size:13.80px;font-weight:bold" fill="#000" stroke="#000" stroke-width="0.12">419.0</text>
<text transform="translate(390.20,497.70) scale(1.0600,1)" style="font-size:13.80px;font-weight:bold" fill="#000" stroke="#000" stroke-width="0.12">354.4</text>
<text transform="translate(463.00,497.70) scale(1.0600,1)" style="font-size:13.80px;font-weight:bold" fill="#000" stroke="#000" stroke-width="0.12">349.7</text>
<text transform="translate(251.83,538.50) scale(1.0600,1)" style="font-size:13.80px;font-weight:bold" fill="#000" stroke="#000" stroke-width="0.12">1</text>
<text transform="translate(324.20,538.50) scale(1.0600,1)" style="font-size:13.80px;font-weight:bold" fill="#000" stroke="#000" stroke-width="0.12">417.2</text>
<text transform="translate(390.20,538.50) scale(1.0600,1)" style="font-size:13.80px;font-weight:bold" fill="#000" stroke="#000" stroke-width="0.12">355.3</text>
<text transform="translate(463.00,538.50) scale(1.0600,1)" style="font-size:13.80px;font-weight:bold" fill="#000" stroke="#000" stroke-width="0.12">350.4</text>
<text transform="translate(251.83,559.00) scale(1.0600,1)" style="font-size:13.80px;font-weight:bold" fill="#000" stroke="#000" stroke-width="0.12">2</text>
<text transform="translate(324.20,559.00) scale(1.0600,1)" style="font-size:13.80px;font-weight:bold" fill="#000" stroke="#000" stroke-width="0.12">418.7</text>
<text transform="translate(390.20,559.00) scale(1.0600,1)" style="font-size:13.80px;font-weight:bold" fill="#000" stroke="#000" stroke-width="0.12">354.2</text>
<text transform="translate(463.00,559.00) scale(1.0600,1)" style="font-size:13.80px;font-weight:bold" fill="#000" stroke="#000" stroke-width="0.12">349.5</text>
<text transform="translate(251.83,579.20) scale(1.0600,1)" style="font-size:13.80px;font-weight:bold" fill="#000" stroke="#000" stroke-width="0.12">3</text>
<text transform="translate(324.20,579.20) scale(1.0600,1)" style="font-size:13.80px;font-weight:bold" fill="#000" stroke="#000" stroke-width="0.12">419.2</text>
<text transform="translate(390.20,579.20) scale(1.0600,1)" style="font-size:13.80px;font-weight:bold" fill="#000" stroke="#000" stroke-width="0.12">354.0</text>
<text transform="translate(463.00,579.20) scale(1.0600,1)" style="font-size:13.80px;font-weight:bold" fill="#000" stroke="#000" stroke-width="0.12">349.5</text>
<text transform="translate(245.33,619.70) scale(1.0600,1)" style="font-size:13.80px;font-weight:bold" fill="#000" stroke="#000" stroke-width="0.12">1-2</text>
<text transform="translate(324.20,619.70) scale(1.0600,1)" style="font-size:13.80px;font-weight:bold" fill="#000" stroke="#000" stroke-width="0.12">417.2</text>
<text transform="translate(390.20,619.70) scale(1.0600,1)" style="font-size:13.80px;font-weight:bold" fill="#000" stroke="#000" stroke-width="0.12">355.2</text>
<text transform="translate(463.00,619.70) scale(1.0600,1)" style="font-size:13.80px;font-weight:bold" fill="#000" stroke="#000" stroke-width="0.12">349.3</text>
</svg></body></html>
